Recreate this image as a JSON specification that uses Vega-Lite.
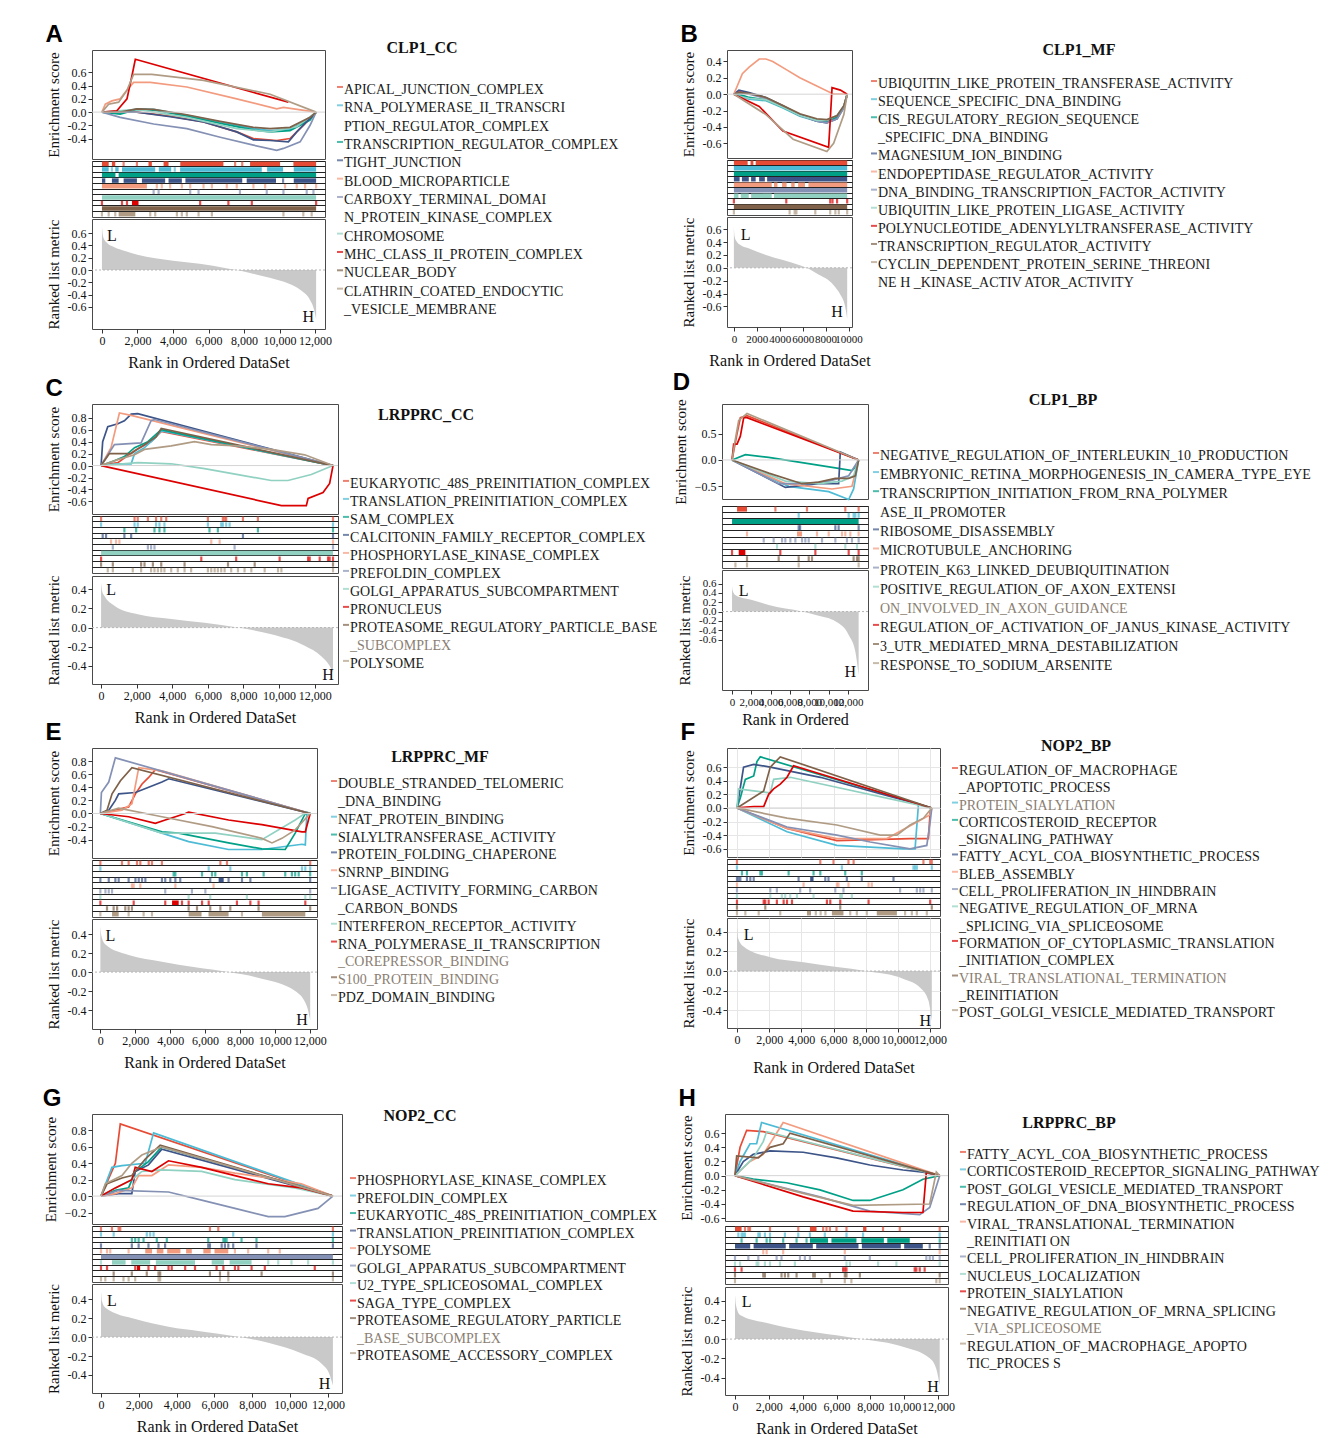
{
"$schema": "https://vega.github.io/schema/vega-lite/v6.json",
"background": "white",
"padding": {"left": 42, "top": 22, "right": 4, "bottom": 4},
"config": {
  "view": {"stroke": "#4a4a4a", "strokeWidth": 1},
  "font": "Liberation Serif",
  "axis": {"labelFont": "Liberation Serif", "titleFont": "Liberation Serif", "labelFontSize": 12, "titleFontSize": 15, "titleFontWeight": "normal", "labelColor": "#111", "titleColor": "#111", "domain": false, "grid": false, "tickColor": "#333", "tickSize": 4, "labelPadding": 2, "titlePadding": 6, "tickCount": 30, "labelOverlap": false},
  "locale": {"number": {"decimal": ".", "thousands": ",", "grouping": [3], "currency": ["$", ""], "minus": "-"}}
},
"datasets": {
"es": [
{"p":"A","s":1,"x":0,"y":0},{"p":"A","s":1,"x":1970,"y":0},{"p":"A","s":1,"x":3840,"y":-0.06},{"p":"A","s":1,"x":5720,"y":-0.15},{"p":"A","s":1,"x":7590,"y":-0.3},{"p":"A","s":1,"x":8530,"y":-0.4},{"p":"A","s":1,"x":9840,"y":-0.43},{"p":"A","s":1,"x":10590,"y":-0.4},{"p":"A","s":1,"x":11340,"y":-0.2},{"p":"A","s":1,"x":12060,"y":0},
{"p":"A","s":2,"x":0,"y":0},{"p":"A","s":2,"x":1030,"y":-0.02},{"p":"A","s":2,"x":1970,"y":0.05},{"p":"A","s":2,"x":2910,"y":0.04},{"p":"A","s":2,"x":4780,"y":-0.05},{"p":"A","s":2,"x":6660,"y":-0.15},{"p":"A","s":2,"x":8530,"y":-0.25},{"p":"A","s":2,"x":9470,"y":-0.28},{"p":"A","s":2,"x":10590,"y":-0.26},{"p":"A","s":2,"x":11720,"y":-0.1},{"p":"A","s":2,"x":12060,"y":0},
{"p":"A","s":3,"x":0,"y":0},{"p":"A","s":3,"x":1030,"y":-0.03},{"p":"A","s":3,"x":1970,"y":0.04},{"p":"A","s":3,"x":2910,"y":0.03},{"p":"A","s":3,"x":4780,"y":-0.06},{"p":"A","s":3,"x":6660,"y":-0.17},{"p":"A","s":3,"x":8530,"y":-0.27},{"p":"A","s":3,"x":9470,"y":-0.3},{"p":"A","s":3,"x":10590,"y":-0.28},{"p":"A","s":3,"x":11720,"y":-0.12},{"p":"A","s":3,"x":12060,"y":0},
{"p":"A","s":4,"x":0,"y":0},{"p":"A","s":4,"x":1970,"y":0},{"p":"A","s":4,"x":3840,"y":-0.07},{"p":"A","s":4,"x":5720,"y":-0.15},{"p":"A","s":4,"x":7590,"y":-0.3},{"p":"A","s":4,"x":8530,"y":-0.42},{"p":"A","s":4,"x":9470,"y":-0.43},{"p":"A","s":4,"x":10500,"y":-0.45},{"p":"A","s":4,"x":10970,"y":-0.3},{"p":"A","s":4,"x":12060,"y":0},
{"p":"A","s":5,"x":0,"y":0},{"p":"A","s":5,"x":190,"y":0.12},{"p":"A","s":5,"x":560,"y":0.17},{"p":"A","s":5,"x":1030,"y":0.2},{"p":"A","s":5,"x":1310,"y":0.3},{"p":"A","s":5,"x":1780,"y":0.45},{"p":"A","s":5,"x":2720,"y":0.45},{"p":"A","s":5,"x":4780,"y":0.38},{"p":"A","s":5,"x":7590,"y":0.2},{"p":"A","s":5,"x":9840,"y":0.05},{"p":"A","s":5,"x":10220,"y":0.07},{"p":"A","s":5,"x":12060,"y":0},
{"p":"A","s":6,"x":0,"y":0},{"p":"A","s":6,"x":1030,"y":-0.08},{"p":"A","s":6,"x":2910,"y":-0.18},{"p":"A","s":6,"x":4780,"y":-0.25},{"p":"A","s":6,"x":6660,"y":-0.38},{"p":"A","s":6,"x":8530,"y":-0.5},{"p":"A","s":6,"x":9840,"y":-0.58},{"p":"A","s":6,"x":10220,"y":-0.55},{"p":"A","s":6,"x":11160,"y":-0.45},{"p":"A","s":6,"x":11720,"y":-0.2},{"p":"A","s":6,"x":12060,"y":0},
{"p":"A","s":7,"x":0,"y":0},{"p":"A","s":7,"x":1970,"y":0.04},{"p":"A","s":7,"x":4780,"y":-0.08},{"p":"A","s":7,"x":7590,"y":-0.25},{"p":"A","s":7,"x":9470,"y":-0.3},{"p":"A","s":7,"x":10970,"y":-0.22},{"p":"A","s":7,"x":12060,"y":0},
{"p":"A","s":8,"x":0,"y":0},{"p":"A","s":8,"x":840,"y":0.02},{"p":"A","s":8,"x":1410,"y":0.2},{"p":"A","s":8,"x":1690,"y":0.55},{"p":"A","s":8,"x":1880,"y":0.8},{"p":"A","s":8,"x":10500,"y":0.15},
{"p":"A","s":9,"x":0,"y":0},{"p":"A","s":9,"x":1030,"y":0},{"p":"A","s":9,"x":1970,"y":0.05},{"p":"A","s":9,"x":2910,"y":0.04},{"p":"A","s":9,"x":4780,"y":-0.04},{"p":"A","s":9,"x":6660,"y":-0.14},{"p":"A","s":9,"x":8530,"y":-0.23},{"p":"A","s":9,"x":9470,"y":-0.25},{"p":"A","s":9,"x":10590,"y":-0.23},{"p":"A","s":9,"x":11720,"y":-0.08},{"p":"A","s":9,"x":12060,"y":0},
{"p":"A","s":10,"x":0,"y":0},{"p":"A","s":10,"x":375,"y":0.12},{"p":"A","s":10,"x":940,"y":0.15},{"p":"A","s":10,"x":1410,"y":0.33},{"p":"A","s":10,"x":1780,"y":0.57},{"p":"A","s":10,"x":2810,"y":0.57},{"p":"A","s":10,"x":5720,"y":0.48},{"p":"A","s":10,"x":9470,"y":0.27},{"p":"A","s":10,"x":12060,"y":0},
{"p":"B","s":1,"x":0,"y":0},{"p":"B","s":1,"x":440,"y":0.03},{"p":"B","s":1,"x":1330,"y":0.01},{"p":"B","s":1,"x":2800,"y":-0.05},{"p":"B","s":1,"x":4280,"y":-0.15},{"p":"B","s":1,"x":5750,"y":-0.25},{"p":"B","s":1,"x":7230,"y":-0.31},{"p":"B","s":1,"x":8110,"y":-0.32},{"p":"B","s":1,"x":9000,"y":-0.27},{"p":"B","s":1,"x":9590,"y":-0.15},{"p":"B","s":1,"x":9880,"y":0},
{"p":"B","s":2,"x":0,"y":0},{"p":"B","s":2,"x":440,"y":-0.02},{"p":"B","s":2,"x":1330,"y":-0.06},{"p":"B","s":2,"x":2800,"y":-0.08},{"p":"B","s":2,"x":4280,"y":-0.17},{"p":"B","s":2,"x":5750,"y":-0.27},{"p":"B","s":2,"x":7230,"y":-0.33},{"p":"B","s":2,"x":8110,"y":-0.34},{"p":"B","s":2,"x":9000,"y":-0.28},{"p":"B","s":2,"x":9590,"y":-0.16},{"p":"B","s":2,"x":9880,"y":0},
{"p":"B","s":3,"x":0,"y":0},{"p":"B","s":3,"x":440,"y":0},{"p":"B","s":3,"x":1330,"y":-0.04},{"p":"B","s":3,"x":2800,"y":-0.07},{"p":"B","s":3,"x":4280,"y":-0.16},{"p":"B","s":3,"x":5750,"y":-0.26},{"p":"B","s":3,"x":7230,"y":-0.32},{"p":"B","s":3,"x":8110,"y":-0.33},{"p":"B","s":3,"x":9000,"y":-0.28},{"p":"B","s":3,"x":9590,"y":-0.15},{"p":"B","s":3,"x":9880,"y":0},
{"p":"B","s":4,"x":0,"y":0},{"p":"B","s":4,"x":440,"y":0.05},{"p":"B","s":4,"x":1330,"y":0.02},{"p":"B","s":4,"x":2800,"y":-0.04},{"p":"B","s":4,"x":4280,"y":-0.14},{"p":"B","s":4,"x":5750,"y":-0.25},{"p":"B","s":4,"x":7230,"y":-0.33},{"p":"B","s":4,"x":8110,"y":-0.35},{"p":"B","s":4,"x":9000,"y":-0.3},{"p":"B","s":4,"x":9590,"y":-0.16},{"p":"B","s":4,"x":9880,"y":0},
{"p":"B","s":5,"x":0,"y":0},{"p":"B","s":5,"x":295,"y":0.1},{"p":"B","s":5,"x":740,"y":0.25},{"p":"B","s":5,"x":1330,"y":0.33},{"p":"B","s":5,"x":2210,"y":0.43},{"p":"B","s":5,"x":2800,"y":0.43},{"p":"B","s":5,"x":3390,"y":0.4},{"p":"B","s":5,"x":4570,"y":0.3},{"p":"B","s":5,"x":5750,"y":0.2},{"p":"B","s":5,"x":7230,"y":0.1},{"p":"B","s":5,"x":8700,"y":0},{"p":"B","s":5,"x":9880,"y":0},
{"p":"B","s":6,"x":0,"y":0},{"p":"B","s":6,"x":440,"y":0.02},{"p":"B","s":6,"x":1330,"y":0},{"p":"B","s":6,"x":2800,"y":-0.05},{"p":"B","s":6,"x":4280,"y":-0.15},{"p":"B","s":6,"x":5750,"y":-0.26},{"p":"B","s":6,"x":7230,"y":-0.33},{"p":"B","s":6,"x":8110,"y":-0.35},{"p":"B","s":6,"x":9000,"y":-0.3},{"p":"B","s":6,"x":9590,"y":-0.17},{"p":"B","s":6,"x":9880,"y":0},
{"p":"B","s":7,"x":0,"y":0},{"p":"B","s":7,"x":440,"y":-0.03},{"p":"B","s":7,"x":1330,"y":-0.05},{"p":"B","s":7,"x":2800,"y":-0.07},{"p":"B","s":7,"x":4280,"y":-0.16},{"p":"B","s":7,"x":5750,"y":-0.26},{"p":"B","s":7,"x":7230,"y":-0.32},{"p":"B","s":7,"x":8110,"y":-0.32},{"p":"B","s":7,"x":9000,"y":-0.26},{"p":"B","s":7,"x":9590,"y":-0.14},{"p":"B","s":7,"x":9880,"y":0},
{"p":"B","s":8,"x":0,"y":0},{"p":"B","s":8,"x":2210,"y":-0.15},{"p":"B","s":8,"x":4280,"y":-0.45},{"p":"B","s":8,"x":8260,"y":-0.65},{"p":"B","s":8,"x":8410,"y":-0.3},{"p":"B","s":8,"x":8560,"y":0.08},{"p":"B","s":8,"x":9290,"y":0.05},{"p":"B","s":8,"x":9880,"y":0},
{"p":"B","s":9,"x":0,"y":0},{"p":"B","s":9,"x":440,"y":0.02},{"p":"B","s":9,"x":1330,"y":0.01},{"p":"B","s":9,"x":2800,"y":-0.04},{"p":"B","s":9,"x":4280,"y":-0.14},{"p":"B","s":9,"x":5750,"y":-0.24},{"p":"B","s":9,"x":7230,"y":-0.3},{"p":"B","s":9,"x":8110,"y":-0.31},{"p":"B","s":9,"x":9000,"y":-0.26},{"p":"B","s":9,"x":9590,"y":-0.14},{"p":"B","s":9,"x":9880,"y":0},
{"p":"B","s":10,"x":0,"y":0},{"p":"B","s":10,"x":2800,"y":-0.25},{"p":"B","s":10,"x":5160,"y":-0.55},{"p":"B","s":10,"x":8110,"y":-0.7},{"p":"B","s":10,"x":8700,"y":-0.6},{"p":"B","s":10,"x":9590,"y":-0.25},{"p":"B","s":10,"x":9880,"y":0},
{"p":"C","s":1,"x":0,"y":0},{"p":"C","s":1,"x":940,"y":0.05},{"p":"C","s":1,"x":1880,"y":0.25},{"p":"C","s":1,"x":2810,"y":0.4},{"p":"C","s":1,"x":3380,"y":0.57},{"p":"C","s":1,"x":13030,"y":0},
{"p":"C","s":2,"x":0,"y":0},{"p":"C","s":2,"x":940,"y":0.03},{"p":"C","s":2,"x":1690,"y":0.03},{"p":"C","s":2,"x":1880,"y":0.2},{"p":"C","s":2,"x":2440,"y":0.3},{"p":"C","s":2,"x":3000,"y":0.45},{"p":"C","s":2,"x":3380,"y":0.58},{"p":"C","s":2,"x":3940,"y":0.55},{"p":"C","s":2,"x":13030,"y":0},
{"p":"C","s":3,"x":0,"y":0},{"p":"C","s":3,"x":750,"y":0.08},{"p":"C","s":3,"x":1310,"y":0.15},{"p":"C","s":3,"x":1880,"y":0.3},{"p":"C","s":3,"x":2630,"y":0.4},{"p":"C","s":3,"x":3380,"y":0.6},{"p":"C","s":3,"x":4130,"y":0.55},{"p":"C","s":3,"x":13030,"y":0},
{"p":"C","s":4,"x":0,"y":0},{"p":"C","s":4,"x":90,"y":0.4},{"p":"C","s":4,"x":375,"y":0.65},{"p":"C","s":4,"x":940,"y":0.7},{"p":"C","s":4,"x":1310,"y":0.75},{"p":"C","s":4,"x":1690,"y":0.86},{"p":"C","s":4,"x":2060,"y":0.87},{"p":"C","s":4,"x":13030,"y":0},
{"p":"C","s":5,"x":0,"y":0},{"p":"C","s":5,"x":560,"y":0.3},{"p":"C","s":5,"x":1030,"y":0.88},{"p":"C","s":5,"x":1690,"y":0.84},{"p":"C","s":5,"x":13030,"y":0},
{"p":"C","s":6,"x":0,"y":0},{"p":"C","s":6,"x":750,"y":0.35},{"p":"C","s":6,"x":2250,"y":0.38},{"p":"C","s":6,"x":2810,"y":0.75},{"p":"C","s":6,"x":3000,"y":0.77},{"p":"C","s":6,"x":13030,"y":0},
{"p":"C","s":7,"x":0,"y":0},{"p":"C","s":7,"x":2060,"y":0.05},{"p":"C","s":7,"x":3940,"y":0.03},{"p":"C","s":7,"x":5810,"y":-0.05},{"p":"C","s":7,"x":7690,"y":-0.15},{"p":"C","s":7,"x":9560,"y":-0.25},{"p":"C","s":7,"x":10500,"y":-0.25},{"p":"C","s":7,"x":11810,"y":-0.15},{"p":"C","s":7,"x":13030,"y":0},
{"p":"C","s":8,"x":0,"y":0},{"p":"C","s":8,"x":10130,"y":-0.67},{"p":"C","s":8,"x":11530,"y":-0.67},{"p":"C","s":8,"x":11630,"y":-0.55},{"p":"C","s":8,"x":12470,"y":-0.45},{"p":"C","s":8,"x":12840,"y":-0.3},{"p":"C","s":8,"x":13030,"y":0},
{"p":"C","s":9,"x":0,"y":0},{"p":"C","s":9,"x":470,"y":0.2},{"p":"C","s":9,"x":1690,"y":0.2},{"p":"C","s":9,"x":2060,"y":0.28},{"p":"C","s":9,"x":2440,"y":0.35},{"p":"C","s":9,"x":3090,"y":0.48},{"p":"C","s":9,"x":3380,"y":0.62},{"p":"C","s":9,"x":13030,"y":0},
{"p":"C","s":10,"x":0,"y":0},{"p":"C","s":10,"x":940,"y":0.1},{"p":"C","s":10,"x":1880,"y":0.18},{"p":"C","s":10,"x":2440,"y":0.27},{"p":"C","s":10,"x":3940,"y":0.33},{"p":"C","s":10,"x":5250,"y":0.4},{"p":"C","s":10,"x":6190,"y":0.35},{"p":"C","s":10,"x":7690,"y":0.33},{"p":"C","s":10,"x":9560,"y":0.27},{"p":"C","s":10,"x":11440,"y":0.18},{"p":"C","s":10,"x":13030,"y":0},
{"p":"D","s":1,"x":0,"y":0},{"p":"D","s":1,"x":520,"y":0.5},{"p":"D","s":1,"x":860,"y":0.8},{"p":"D","s":1,"x":1550,"y":0.84},{"p":"D","s":1,"x":13110,"y":0},
{"p":"D","s":2,"x":0,"y":0},{"p":"D","s":2,"x":5870,"y":-0.5},{"p":"D","s":2,"x":10010,"y":-0.6},{"p":"D","s":2,"x":12080,"y":-0.75},{"p":"D","s":2,"x":12590,"y":-0.55},{"p":"D","s":2,"x":13110,"y":0},
{"p":"D","s":3,"x":0,"y":0},{"p":"D","s":3,"x":1380,"y":0.1},{"p":"D","s":3,"x":3800,"y":0.05},{"p":"D","s":3,"x":7250,"y":-0.05},{"p":"D","s":3,"x":10700,"y":-0.15},{"p":"D","s":3,"x":12420,"y":-0.2},{"p":"D","s":3,"x":12940,"y":-0.1},{"p":"D","s":3,"x":13110,"y":0},
{"p":"D","s":4,"x":0,"y":0},{"p":"D","s":4,"x":5520,"y":-0.52},{"p":"D","s":4,"x":8970,"y":-0.45},{"p":"D","s":4,"x":11040,"y":-0.45},{"p":"D","s":4,"x":11210,"y":0.15},{"p":"D","s":4,"x":13110,"y":0},
{"p":"D","s":5,"x":0,"y":0},{"p":"D","s":5,"x":5520,"y":-0.45},{"p":"D","s":5,"x":10350,"y":-0.55},{"p":"D","s":5,"x":12420,"y":-0.5},{"p":"D","s":5,"x":13110,"y":0},
{"p":"D","s":6,"x":0,"y":0},{"p":"D","s":6,"x":4830,"y":-0.45},{"p":"D","s":6,"x":7940,"y":-0.45},{"p":"D","s":6,"x":10010,"y":-0.4},{"p":"D","s":6,"x":12080,"y":-0.3},{"p":"D","s":6,"x":13110,"y":0},
{"p":"D","s":7,"x":0,"y":0},{"p":"D","s":7,"x":5520,"y":-0.4},{"p":"D","s":7,"x":8970,"y":-0.45},{"p":"D","s":7,"x":11390,"y":-0.4},{"p":"D","s":7,"x":12590,"y":-0.3},{"p":"D","s":7,"x":13110,"y":0},
{"p":"D","s":8,"x":0,"y":0},{"p":"D","s":8,"x":170,"y":0.3},{"p":"D","s":8,"x":520,"y":0.3},{"p":"D","s":8,"x":860,"y":0.45},{"p":"D","s":8,"x":1210,"y":0.8},{"p":"D","s":8,"x":1550,"y":0.8},{"p":"D","s":8,"x":13110,"y":0},
{"p":"D","s":9,"x":0,"y":0},{"p":"D","s":9,"x":3800,"y":-0.25},{"p":"D","s":9,"x":7250,"y":-0.45},{"p":"D","s":9,"x":8970,"y":-0.42},{"p":"D","s":9,"x":10700,"y":-0.35},{"p":"D","s":9,"x":12080,"y":-0.35},{"p":"D","s":9,"x":12770,"y":-0.3},{"p":"D","s":9,"x":13110,"y":0},
{"p":"D","s":10,"x":0,"y":0},{"p":"D","s":10,"x":350,"y":0.4},{"p":"D","s":10,"x":690,"y":0.75},{"p":"D","s":10,"x":1550,"y":0.88},{"p":"D","s":10,"x":13110,"y":0},
{"p":"E","s":1,"x":0,"y":0},{"p":"E","s":1,"x":1620,"y":0.1},{"p":"E","s":1,"x":2010,"y":0.3},{"p":"E","s":1,"x":2390,"y":0.45},{"p":"E","s":1,"x":2770,"y":0.55},{"p":"E","s":1,"x":3150,"y":0.67},{"p":"E","s":1,"x":12030,"y":0},
{"p":"E","s":2,"x":0,"y":0},{"p":"E","s":2,"x":3530,"y":-0.3},{"p":"E","s":2,"x":5060,"y":-0.43},{"p":"E","s":2,"x":7350,"y":-0.55},{"p":"E","s":2,"x":9260,"y":-0.55},{"p":"E","s":2,"x":11560,"y":-0.47},{"p":"E","s":2,"x":11750,"y":-0.48},{"p":"E","s":2,"x":11840,"y":0.02},{"p":"E","s":2,"x":12030,"y":0},
{"p":"E","s":3,"x":0,"y":0},{"p":"E","s":3,"x":3530,"y":-0.28},{"p":"E","s":3,"x":4490,"y":-0.3},{"p":"E","s":3,"x":7350,"y":-0.45},{"p":"E","s":3,"x":9260,"y":-0.54},{"p":"E","s":3,"x":10600,"y":-0.55},{"p":"E","s":3,"x":11170,"y":-0.3},{"p":"E","s":3,"x":11750,"y":0},{"p":"E","s":3,"x":12030,"y":0},
{"p":"E","s":4,"x":0,"y":0},{"p":"E","s":4,"x":480,"y":0.05},{"p":"E","s":4,"x":860,"y":0.2},{"p":"E","s":4,"x":1050,"y":0.3},{"p":"E","s":4,"x":2010,"y":0.32},{"p":"E","s":4,"x":2770,"y":0.4},{"p":"E","s":4,"x":3530,"y":0.48},{"p":"E","s":4,"x":3920,"y":0.53},{"p":"E","s":4,"x":12030,"y":0},
{"p":"E","s":5,"x":0,"y":0},{"p":"E","s":5,"x":1240,"y":0.05},{"p":"E","s":5,"x":1810,"y":0.15},{"p":"E","s":5,"x":2200,"y":0.7},{"p":"E","s":5,"x":3530,"y":0.65},{"p":"E","s":5,"x":12030,"y":0},
{"p":"E","s":6,"x":0,"y":0},{"p":"E","s":6,"x":60,"y":0.32},{"p":"E","s":6,"x":480,"y":0.48},{"p":"E","s":6,"x":860,"y":0.85},{"p":"E","s":6,"x":12030,"y":0},
{"p":"E","s":7,"x":0,"y":0},{"p":"E","s":7,"x":3530,"y":-0.3},{"p":"E","s":7,"x":6590,"y":-0.3},{"p":"E","s":7,"x":9260,"y":-0.4},{"p":"E","s":7,"x":11170,"y":-0.1},{"p":"E","s":7,"x":11840,"y":0.02},{"p":"E","s":7,"x":12030,"y":0},
{"p":"E","s":8,"x":0,"y":0},{"p":"E","s":8,"x":1620,"y":-0.05},{"p":"E","s":8,"x":3150,"y":-0.15},{"p":"E","s":8,"x":3720,"y":-0.1},{"p":"E","s":8,"x":4300,"y":-0.05},{"p":"E","s":8,"x":4870,"y":0},{"p":"E","s":8,"x":5060,"y":0.02},{"p":"E","s":8,"x":7350,"y":-0.1},{"p":"E","s":8,"x":9260,"y":-0.17},{"p":"E","s":8,"x":11560,"y":-0.28},{"p":"E","s":8,"x":11750,"y":-0.28},{"p":"E","s":8,"x":12030,"y":0},
{"p":"E","s":9,"x":0,"y":0},{"p":"E","s":9,"x":380,"y":0.05},{"p":"E","s":9,"x":670,"y":0.3},{"p":"E","s":9,"x":1150,"y":0.5},{"p":"E","s":9,"x":1810,"y":0.7},{"p":"E","s":9,"x":12030,"y":0},
{"p":"E","s":10,"x":0,"y":0},{"p":"E","s":10,"x":1050,"y":0.08},{"p":"E","s":10,"x":3530,"y":-0.05},{"p":"E","s":10,"x":6400,"y":-0.2},{"p":"E","s":10,"x":9260,"y":-0.38},{"p":"E","s":10,"x":9840,"y":-0.45},{"p":"E","s":10,"x":10410,"y":-0.38},{"p":"E","s":10,"x":11170,"y":-0.25},{"p":"E","s":10,"x":12030,"y":0},
{"p":"F","s":1,"x":0,"y":0},{"p":"F","s":1,"x":3110,"y":-0.3},{"p":"F","s":1,"x":6210,"y":-0.48},{"p":"F","s":1,"x":10760,"y":-0.45},{"p":"F","s":1,"x":11900,"y":-0.45},{"p":"F","s":1,"x":12010,"y":-0.05},{"p":"F","s":1,"x":12110,"y":0},
{"p":"F","s":2,"x":0,"y":0},{"p":"F","s":2,"x":3110,"y":-0.35},{"p":"F","s":2,"x":6210,"y":-0.55},{"p":"F","s":2,"x":10350,"y":-0.6},{"p":"F","s":2,"x":11070,"y":-0.6},{"p":"F","s":2,"x":11280,"y":0.05},{"p":"F","s":2,"x":12110,"y":0},
{"p":"F","s":3,"x":0,"y":0},{"p":"F","s":3,"x":210,"y":0.15},{"p":"F","s":3,"x":520,"y":0.42},{"p":"F","s":3,"x":1040,"y":0.47},{"p":"F","s":3,"x":1240,"y":0.68},{"p":"F","s":3,"x":1450,"y":0.75},{"p":"F","s":3,"x":12110,"y":0},
{"p":"F","s":4,"x":0,"y":0},{"p":"F","s":4,"x":210,"y":0.3},{"p":"F","s":4,"x":410,"y":0.6},{"p":"F","s":4,"x":1040,"y":0.64},{"p":"F","s":4,"x":2070,"y":0.6},{"p":"F","s":4,"x":5180,"y":0.45},{"p":"F","s":4,"x":12110,"y":0},
{"p":"F","s":5,"x":0,"y":0},{"p":"F","s":5,"x":3110,"y":-0.3},{"p":"F","s":5,"x":6210,"y":-0.45},{"p":"F","s":5,"x":9320,"y":-0.45},{"p":"F","s":5,"x":12010,"y":-0.1},{"p":"F","s":5,"x":12110,"y":0},
{"p":"F","s":6,"x":0,"y":0},{"p":"F","s":6,"x":3110,"y":-0.28},{"p":"F","s":6,"x":6210,"y":-0.4},{"p":"F","s":6,"x":8280,"y":-0.5},{"p":"F","s":6,"x":10760,"y":-0.6},{"p":"F","s":6,"x":11800,"y":-0.55},{"p":"F","s":6,"x":12010,"y":-0.2},{"p":"F","s":6,"x":12110,"y":0},
{"p":"F","s":7,"x":0,"y":0},{"p":"F","s":7,"x":100,"y":0.28},{"p":"F","s":7,"x":1040,"y":0.25},{"p":"F","s":7,"x":2070,"y":0.22},{"p":"F","s":7,"x":2280,"y":0.42},{"p":"F","s":7,"x":3310,"y":0.45},{"p":"F","s":7,"x":12110,"y":0},
{"p":"F","s":8,"x":0,"y":0},{"p":"F","s":8,"x":1040,"y":0.02},{"p":"F","s":8,"x":1660,"y":0.02},{"p":"F","s":8,"x":1970,"y":0.2},{"p":"F","s":8,"x":2280,"y":0.28},{"p":"F","s":8,"x":2690,"y":0.35},{"p":"F","s":8,"x":3110,"y":0.45},{"p":"F","s":8,"x":3520,"y":0.62},{"p":"F","s":8,"x":12110,"y":0},
{"p":"F","s":9,"x":0,"y":0},{"p":"F","s":9,"x":1660,"y":0.25},{"p":"F","s":9,"x":2070,"y":0.6},{"p":"F","s":9,"x":2690,"y":0.75},{"p":"F","s":9,"x":12110,"y":0},
{"p":"F","s":10,"x":0,"y":0},{"p":"F","s":10,"x":3110,"y":-0.15},{"p":"F","s":10,"x":6210,"y":-0.25},{"p":"F","s":10,"x":8900,"y":-0.4},{"p":"F","s":10,"x":9940,"y":-0.4},{"p":"F","s":10,"x":10760,"y":-0.25},{"p":"F","s":10,"x":11590,"y":-0.15},{"p":"F","s":10,"x":12110,"y":0},
{"p":"G","s":1,"x":0,"y":0},{"p":"G","s":1,"x":760,"y":0.4},{"p":"G","s":1,"x":1020,"y":0.88},{"p":"G","s":1,"x":12260,"y":0},
{"p":"G","s":2,"x":0,"y":0},{"p":"G","s":2,"x":580,"y":0.35},{"p":"G","s":2,"x":1110,"y":0.37},{"p":"G","s":2,"x":2340,"y":0.4},{"p":"G","s":2,"x":2780,"y":0.77},{"p":"G","s":2,"x":12260,"y":0},
{"p":"G","s":3,"x":0,"y":0},{"p":"G","s":3,"x":760,"y":0.07},{"p":"G","s":3,"x":1460,"y":0.1},{"p":"G","s":3,"x":1810,"y":0.3},{"p":"G","s":3,"x":2510,"y":0.42},{"p":"G","s":3,"x":3220,"y":0.6},{"p":"G","s":3,"x":12260,"y":0},
{"p":"G","s":4,"x":0,"y":0},{"p":"G","s":4,"x":930,"y":0.03},{"p":"G","s":4,"x":1630,"y":0.03},{"p":"G","s":4,"x":1810,"y":0.3},{"p":"G","s":4,"x":2510,"y":0.38},{"p":"G","s":4,"x":3220,"y":0.57},{"p":"G","s":4,"x":12260,"y":0},
{"p":"G","s":5,"x":0,"y":0},{"p":"G","s":5,"x":760,"y":0.03},{"p":"G","s":5,"x":1630,"y":0.1},{"p":"G","s":5,"x":1990,"y":0.25},{"p":"G","s":5,"x":2690,"y":0.25},{"p":"G","s":5,"x":3570,"y":0.38},{"p":"G","s":5,"x":5320,"y":0.35},{"p":"G","s":5,"x":7080,"y":0.28},{"p":"G","s":5,"x":8840,"y":0.22},{"p":"G","s":5,"x":10590,"y":0.15},{"p":"G","s":5,"x":12260,"y":0},
{"p":"G","s":6,"x":0,"y":0},{"p":"G","s":6,"x":930,"y":0.07},{"p":"G","s":6,"x":3570,"y":0.05},{"p":"G","s":6,"x":5320,"y":-0.05},{"p":"G","s":6,"x":7080,"y":-0.15},{"p":"G","s":6,"x":8840,"y":-0.25},{"p":"G","s":6,"x":9720,"y":-0.25},{"p":"G","s":6,"x":11470,"y":-0.15},{"p":"G","s":6,"x":12260,"y":0},
{"p":"G","s":7,"x":0,"y":0},{"p":"G","s":7,"x":760,"y":0.1},{"p":"G","s":7,"x":1630,"y":0.2},{"p":"G","s":7,"x":2160,"y":0.3},{"p":"G","s":7,"x":3220,"y":0.32},{"p":"G","s":7,"x":5320,"y":0.3},{"p":"G","s":7,"x":7080,"y":0.2},{"p":"G","s":7,"x":10240,"y":0.1},{"p":"G","s":7,"x":12260,"y":0},
{"p":"G","s":8,"x":0,"y":0},{"p":"G","s":8,"x":760,"y":0.1},{"p":"G","s":8,"x":1630,"y":0.2},{"p":"G","s":8,"x":1810,"y":0.35},{"p":"G","s":8,"x":2690,"y":0.3},{"p":"G","s":8,"x":3570,"y":0.43},{"p":"G","s":8,"x":5320,"y":0.35},{"p":"G","s":8,"x":7080,"y":0.25},{"p":"G","s":8,"x":8840,"y":0.15},{"p":"G","s":8,"x":10590,"y":0.1},{"p":"G","s":8,"x":12260,"y":0},
{"p":"G","s":9,"x":0,"y":0},{"p":"G","s":9,"x":320,"y":0.15},{"p":"G","s":9,"x":1110,"y":0.22},{"p":"G","s":9,"x":1630,"y":0.25},{"p":"G","s":9,"x":2340,"y":0.45},{"p":"G","s":9,"x":3130,"y":0.62},{"p":"G","s":9,"x":12260,"y":0},
{"p":"G","s":10,"x":0,"y":0},{"p":"G","s":10,"x":230,"y":0.15},{"p":"G","s":10,"x":1110,"y":0.25},{"p":"G","s":10,"x":1630,"y":0.4},{"p":"G","s":10,"x":2160,"y":0.5},{"p":"G","s":10,"x":3220,"y":0.6},{"p":"G","s":10,"x":12260,"y":0},
{"p":"H","s":1,"x":0,"y":0},{"p":"H","s":1,"x":300,"y":0.4},{"p":"H","s":1,"x":690,"y":0.64},{"p":"H","s":1,"x":1670,"y":0.62},{"p":"H","s":1,"x":12100,"y":0},
{"p":"H","s":2,"x":0,"y":0},{"p":"H","s":2,"x":300,"y":0.2},{"p":"H","s":2,"x":890,"y":0.45},{"p":"H","s":2,"x":1280,"y":0.45},{"p":"H","s":2,"x":1570,"y":0.75},{"p":"H","s":2,"x":12100,"y":0},
{"p":"H","s":3,"x":0,"y":0},{"p":"H","s":3,"x":1080,"y":-0.05},{"p":"H","s":3,"x":3050,"y":-0.1},{"p":"H","s":3,"x":5020,"y":-0.2},{"p":"H","s":3,"x":6980,"y":-0.35},{"p":"H","s":3,"x":7970,"y":-0.35},{"p":"H","s":3,"x":9930,"y":-0.2},{"p":"H","s":3,"x":11110,"y":-0.05},{"p":"H","s":3,"x":12100,"y":0},
{"p":"H","s":4,"x":0,"y":0},{"p":"H","s":4,"x":490,"y":0.2},{"p":"H","s":4,"x":1080,"y":0.3},{"p":"H","s":4,"x":2070,"y":0.35},{"p":"H","s":4,"x":4030,"y":0.33},{"p":"H","s":4,"x":6000,"y":0.25},{"p":"H","s":4,"x":7970,"y":0.15},{"p":"H","s":4,"x":9930,"y":0.08},{"p":"H","s":4,"x":11110,"y":0.05},{"p":"H","s":4,"x":12100,"y":0},
{"p":"H","s":5,"x":0,"y":0},{"p":"H","s":5,"x":890,"y":0.2},{"p":"H","s":5,"x":1670,"y":0.3},{"p":"H","s":5,"x":2850,"y":0.75},{"p":"H","s":5,"x":12100,"y":0},
{"p":"H","s":6,"x":0,"y":0},{"p":"H","s":6,"x":5020,"y":-0.3},{"p":"H","s":6,"x":7970,"y":-0.5},{"p":"H","s":6,"x":10920,"y":-0.55},{"p":"H","s":6,"x":11510,"y":-0.45},{"p":"H","s":6,"x":12100,"y":0},
{"p":"H","s":7,"x":0,"y":0},{"p":"H","s":7,"x":1080,"y":0.25},{"p":"H","s":7,"x":1670,"y":0.48},{"p":"H","s":7,"x":1870,"y":0.62},{"p":"H","s":7,"x":12100,"y":0},
{"p":"H","s":8,"x":0,"y":0},{"p":"H","s":8,"x":4030,"y":-0.3},{"p":"H","s":8,"x":6980,"y":-0.5},{"p":"H","s":8,"x":9930,"y":-0.52},{"p":"H","s":8,"x":11110,"y":-0.52},{"p":"H","s":8,"x":11310,"y":0.05},{"p":"H","s":8,"x":12100,"y":0},
{"p":"H","s":9,"x":0,"y":0},{"p":"H","s":9,"x":100,"y":0.28},{"p":"H","s":9,"x":1380,"y":0.25},{"p":"H","s":9,"x":2070,"y":0.4},{"p":"H","s":9,"x":2850,"y":0.45},{"p":"H","s":9,"x":3250,"y":0.6},{"p":"H","s":9,"x":12100,"y":0},
{"p":"H","s":10,"x":0,"y":0},{"p":"H","s":10,"x":4030,"y":-0.25},{"p":"H","s":10,"x":6980,"y":-0.42},{"p":"H","s":10,"x":11510,"y":-0.4},{"p":"H","s":10,"x":11900,"y":0.05},{"p":"H","s":10,"x":12100,"y":0}
],
"hits": [
{"p":"A","s":1,"x":0,"x2":380},{"p":"A","s":1,"x":560,"x2":750},{"p":"A","s":1,"x":2620,"x2":2810},{"p":"A","s":1,"x":3470,"x2":3750},{"p":"A","s":1,"x":4410,"x2":6840},{"p":"A","s":1,"x":8340,"x2":10030},{"p":"A","s":1,"x":10780,"x2":12060},{"p":"A","s":1,"x":1220},{"p":"A","s":1,"x":1970},{"p":"A","s":1,"x":7500},{"p":"A","s":1,"x":7900},
{"p":"A","s":2,"x":0,"x2":380},{"p":"A","s":2,"x":750,"x2":940},{"p":"A","s":2,"x":1130,"x2":3000},{"p":"A","s":2,"x":3200,"x2":3900},{"p":"A","s":2,"x":4400,"x2":9000},{"p":"A","s":2,"x":9300,"x2":10200},{"p":"A","s":2,"x":10800,"x2":12060},{"p":"A","s":2,"x":560},{"p":"A","s":2,"x":4100},
{"p":"A","s":3,"x":0,"x2":760},{"p":"A","s":3,"x":940,"x2":12060},
{"p":"A","s":4,"x":0,"x2":190},{"p":"A","s":4,"x":560,"x2":940},{"p":"A","s":4,"x":1220,"x2":1970},{"p":"A","s":4,"x":2250,"x2":3560},{"p":"A","s":4,"x":3750,"x2":4500},{"p":"A","s":4,"x":4700,"x2":7900},{"p":"A","s":4,"x":8150,"x2":9800},{"p":"A","s":4,"x":10800,"x2":12060},{"p":"A","s":4,"x":10200},
{"p":"A","s":5,"x":0,"x2":2530},{"p":"A","s":5,"x":3090},{"p":"A","s":5,"x":3370},{"p":"A","s":5,"x":3840},{"p":"A","s":5,"x":4500},{"p":"A","s":5,"x":4970},{"p":"A","s":5,"x":5720},{"p":"A","s":5,"x":6190},{"p":"A","s":5,"x":7030},{"p":"A","s":5,"x":7590},{"p":"A","s":5,"x":8530},{"p":"A","s":5,"x":9190},{"p":"A","s":5,"x":10310},{"p":"A","s":5,"x":10970},{"p":"A","s":5,"x":11440},{"p":"A","s":5,"x":12060},
{"p":"A","s":6,"x":2910},{"p":"A","s":6,"x":3190},{"p":"A","s":6,"x":4970},{"p":"A","s":6,"x":5440},{"p":"A","s":6,"x":7770},{"p":"A","s":6,"x":9280},{"p":"A","s":6,"x":10220},{"p":"A","s":6,"x":11530},{"p":"A","s":6,"x":11910},
{"p":"A","s":7,"x":0,"x2":12060},
{"p":"A","s":8,"x":0},{"p":"A","s":8,"x":1130},{"p":"A","s":8,"x":1410},{"p":"A","s":8,"x":1690,"x2":2060},{"p":"A","s":8,"x":5530},{"p":"A","s":8,"x":7120},{"p":"A","s":8,"x":8440},{"p":"A","s":8,"x":12060},
{"p":"A","s":9,"x":0,"x2":12060},
{"p":"A","s":10,"x":0},{"p":"A","s":10,"x":380},{"p":"A","s":10,"x":750},{"p":"A","s":10,"x":940,"x2":1880},{"p":"A","s":10,"x":2720},{"p":"A","s":10,"x":3000},{"p":"A","s":10,"x":4220},{"p":"A","s":10,"x":4500},{"p":"A","s":10,"x":4780},{"p":"A","s":10,"x":5440},{"p":"A","s":10,"x":6190},{"p":"A","s":10,"x":10220},{"p":"A","s":10,"x":11340},{"p":"A","s":10,"x":11810},
{"p":"B","s":1,"x":0,"x2":1200},{"p":"B","s":1,"x":1450,"x2":1700},{"p":"B","s":1,"x":1900,"x2":9880},
{"p":"B","s":2,"x":0,"x2":9880},
{"p":"B","s":3,"x":0,"x2":9880},
{"p":"B","s":4,"x":0,"x2":500},{"p":"B","s":4,"x":700,"x2":1300},{"p":"B","s":4,"x":1500,"x2":1900},{"p":"B","s":4,"x":2200,"x2":2700},{"p":"B","s":4,"x":2900,"x2":9880},
{"p":"B","s":5,"x":0,"x2":3300},{"p":"B","s":5,"x":3500,"x2":3800},{"p":"B","s":5,"x":4200,"x2":4600},{"p":"B","s":5,"x":5000,"x2":5300},{"p":"B","s":5,"x":5600,"x2":6200},{"p":"B","s":5,"x":6500,"x2":9880},
{"p":"B","s":6,"x":0,"x2":9880},
{"p":"B","s":7,"x":0,"x2":400},{"p":"B","s":7,"x":600,"x2":1300},{"p":"B","s":7,"x":1500,"x2":3300},{"p":"B","s":7,"x":3500,"x2":9880},
{"p":"B","s":8,"x":0},{"p":"B","s":8,"x":4570},{"p":"B","s":8,"x":8400},{"p":"B","s":8,"x":8600},{"p":"B","s":8,"x":9000},{"p":"B","s":8,"x":9880},
{"p":"B","s":9,"x":0,"x2":9880},
{"p":"B","s":10,"x":0},{"p":"B","s":10,"x":4860},{"p":"B","s":10,"x":5300},{"p":"B","s":10,"x":5450},{"p":"B","s":10,"x":7100},{"p":"B","s":10,"x":8400},{"p":"B","s":10,"x":8850},{"p":"B","s":10,"x":9150},{"p":"B","s":10,"x":9880},
{"p":"C","s":1,"x":0},{"p":"C","s":1,"x":1880},{"p":"C","s":1,"x":2060},{"p":"C","s":1,"x":2630},{"p":"C","s":1,"x":3090},{"p":"C","s":1,"x":3380},{"p":"C","s":1,"x":3660},{"p":"C","s":1,"x":6000},{"p":"C","s":1,"x":6840},{"p":"C","s":1,"x":6940},{"p":"C","s":1,"x":7030},{"p":"C","s":1,"x":7970},{"p":"C","s":1,"x":8810},{"p":"C","s":1,"x":13030},
{"p":"C","s":2,"x":0},{"p":"C","s":2,"x":1880},{"p":"C","s":2,"x":2060},{"p":"C","s":2,"x":3090},{"p":"C","s":2,"x":3280},{"p":"C","s":2,"x":3560},{"p":"C","s":2,"x":6000},{"p":"C","s":2,"x":6750},{"p":"C","s":2,"x":6840},{"p":"C","s":2,"x":7030},{"p":"C","s":2,"x":7220},{"p":"C","s":2,"x":13030},
{"p":"C","s":3,"x":1310},{"p":"C","s":3,"x":1970},{"p":"C","s":3,"x":3000},{"p":"C","s":3,"x":3280},{"p":"C","s":3,"x":3560},{"p":"C","s":3,"x":6090},{"p":"C","s":3,"x":6560},{"p":"C","s":3,"x":8810},{"p":"C","s":3,"x":13030},
{"p":"C","s":4,"x":90},{"p":"C","s":4,"x":280},{"p":"C","s":4,"x":1310},{"p":"C","s":4,"x":1690},{"p":"C","s":4,"x":7970},{"p":"C","s":4,"x":13030},
{"p":"C","s":5,"x":560},{"p":"C","s":5,"x":840},{"p":"C","s":5,"x":1030},{"p":"C","s":5,"x":6190},{"p":"C","s":5,"x":6660},{"p":"C","s":5,"x":13030},
{"p":"C","s":6,"x":660},{"p":"C","s":6,"x":2630},{"p":"C","s":6,"x":2810},{"p":"C","s":6,"x":3000},{"p":"C","s":6,"x":7500},{"p":"C","s":6,"x":13030},
{"p":"C","s":7,"x":0,"x2":13030},
{"p":"C","s":8,"x":0},{"p":"C","s":8,"x":5630},{"p":"C","s":8,"x":7590},{"p":"C","s":8,"x":10030},{"p":"C","s":8,"x":11630},{"p":"C","s":8,"x":11720},{"p":"C","s":8,"x":12280},{"p":"C","s":8,"x":12750},{"p":"C","s":8,"x":12840},{"p":"C","s":8,"x":13030},
{"p":"C","s":9,"x":0},{"p":"C","s":9,"x":660},{"p":"C","s":9,"x":2250},{"p":"C","s":9,"x":2440},{"p":"C","s":9,"x":2910},{"p":"C","s":9,"x":3380},{"p":"C","s":9,"x":4690},{"p":"C","s":9,"x":7130},{"p":"C","s":9,"x":8630},{"p":"C","s":9,"x":13030},
{"p":"C","s":10,"x":375},{"p":"C","s":10,"x":660},{"p":"C","s":10,"x":1780},{"p":"C","s":10,"x":2250},{"p":"C","s":10,"x":2810},{"p":"C","s":10,"x":3000},{"p":"C","s":10,"x":3190},{"p":"C","s":10,"x":3380},{"p":"C","s":10,"x":3560},{"p":"C","s":10,"x":3940},{"p":"C","s":10,"x":4310},{"p":"C","s":10,"x":4690},{"p":"C","s":10,"x":5060},{"p":"C","s":10,"x":6000},{"p":"C","s":10,"x":6190},{"p":"C","s":10,"x":6380},{"p":"C","s":10,"x":6560},{"p":"C","s":10,"x":6750},{"p":"C","s":10,"x":6940},{"p":"C","s":10,"x":7310},{"p":"C","s":10,"x":7690},{"p":"C","s":10,"x":8060},{"p":"C","s":10,"x":8440},{"p":"C","s":10,"x":9190},{"p":"C","s":10,"x":9940},{"p":"C","s":10,"x":10130},{"p":"C","s":10,"x":13030},
{"p":"D","s":1,"x":520,"x2":1550},{"p":"D","s":1,"x":4490},{"p":"D","s":1,"x":7760},{"p":"D","s":1,"x":11730},{"p":"D","s":1,"x":13110},
{"p":"D","s":2,"x":6900},{"p":"D","s":2,"x":12080},{"p":"D","s":2,"x":12590},{"p":"D","s":2,"x":12770},{"p":"D","s":2,"x":13110},
{"p":"D","s":3,"x":0,"x2":13110},
{"p":"D","s":4,"x":6900},{"p":"D","s":4,"x":7050},{"p":"D","s":4,"x":10700},{"p":"D","s":4,"x":11040},{"p":"D","s":4,"x":13110},
{"p":"D","s":5,"x":1550},{"p":"D","s":5,"x":6730,"x2":7250},{"p":"D","s":5,"x":8800},{"p":"D","s":5,"x":10010},{"p":"D","s":5,"x":11390},{"p":"D","s":5,"x":11730},{"p":"D","s":5,"x":12250},{"p":"D","s":5,"x":13110},
{"p":"D","s":6,"x":3280},{"p":"D","s":6,"x":4310},{"p":"D","s":6,"x":5180},{"p":"D","s":6,"x":5520},{"p":"D","s":6,"x":6040},{"p":"D","s":6,"x":6560},{"p":"D","s":6,"x":7250},{"p":"D","s":6,"x":7590},{"p":"D","s":6,"x":7940},{"p":"D","s":6,"x":9320},{"p":"D","s":6,"x":10700},{"p":"D","s":6,"x":11900},{"p":"D","s":6,"x":12420},{"p":"D","s":6,"x":13110},
{"p":"D","s":7,"x":4660},{"p":"D","s":7,"x":8630},{"p":"D","s":7,"x":11730},{"p":"D","s":7,"x":12940},
{"p":"D","s":8,"x":0},{"p":"D","s":8,"x":690,"x2":1380},{"p":"D","s":8,"x":5000},{"p":"D","s":8,"x":8630},{"p":"D","s":8,"x":12080},{"p":"D","s":8,"x":13110},
{"p":"D","s":9,"x":1550},{"p":"D","s":9,"x":4830},{"p":"D","s":9,"x":6900},{"p":"D","s":9,"x":7940},{"p":"D","s":9,"x":8280},{"p":"D","s":9,"x":12590},{"p":"D","s":9,"x":12940},{"p":"D","s":9,"x":13110},
{"p":"D","s":10,"x":350},{"p":"D","s":10,"x":1550},{"p":"D","s":10,"x":6900},{"p":"D","s":10,"x":13110},
{"p":"E","s":1,"x":0},{"p":"E","s":1,"x":1240},{"p":"E","s":1,"x":1620},{"p":"E","s":1,"x":2100},{"p":"E","s":1,"x":2290},{"p":"E","s":1,"x":2770},{"p":"E","s":1,"x":2960},{"p":"E","s":1,"x":3530},{"p":"E","s":1,"x":6880},{"p":"E","s":1,"x":7260},{"p":"E","s":1,"x":12030},
{"p":"E","s":2,"x":0},{"p":"E","s":2,"x":6210},{"p":"E","s":2,"x":7450},{"p":"E","s":2,"x":11560},{"p":"E","s":2,"x":11750},{"p":"E","s":2,"x":12030},
{"p":"E","s":3,"x":4200},{"p":"E","s":3,"x":4300},{"p":"E","s":3,"x":5830},{"p":"E","s":3,"x":6400},{"p":"E","s":3,"x":6590},{"p":"E","s":3,"x":8120},{"p":"E","s":3,"x":8400},{"p":"E","s":3,"x":9360},{"p":"E","s":3,"x":10600},{"p":"E","s":3,"x":10980},{"p":"E","s":3,"x":11170},{"p":"E","s":3,"x":11370},{"p":"E","s":3,"x":12030},
{"p":"E","s":4,"x":0},{"p":"E","s":4,"x":480},{"p":"E","s":4,"x":860},{"p":"E","s":4,"x":1050},{"p":"E","s":4,"x":1620},{"p":"E","s":4,"x":2010},{"p":"E","s":4,"x":2200},{"p":"E","s":4,"x":2390},{"p":"E","s":4,"x":2580},{"p":"E","s":4,"x":3530},{"p":"E","s":4,"x":3720},{"p":"E","s":4,"x":4010},{"p":"E","s":4,"x":4300},{"p":"E","s":4,"x":4580},{"p":"E","s":4,"x":6300},{"p":"E","s":4,"x":6780,"x2":7070},{"p":"E","s":4,"x":7350},{"p":"E","s":4,"x":8120},{"p":"E","s":4,"x":8600},{"p":"E","s":4,"x":12030},
{"p":"E","s":5,"x":1810},{"p":"E","s":5,"x":1910},{"p":"E","s":5,"x":2290},{"p":"E","s":5,"x":4300},{"p":"E","s":5,"x":6490},
{"p":"E","s":6,"x":0},{"p":"E","s":6,"x":290},{"p":"E","s":6,"x":480},{"p":"E","s":6,"x":670},{"p":"E","s":6,"x":3720},{"p":"E","s":6,"x":5250},{"p":"E","s":6,"x":6020},{"p":"E","s":6,"x":12030},
{"p":"E","s":7,"x":0},{"p":"E","s":7,"x":5060},{"p":"E","s":7,"x":6300},{"p":"E","s":7,"x":8400},{"p":"E","s":7,"x":11750},{"p":"E","s":7,"x":12030},
{"p":"E","s":8,"x":0},{"p":"E","s":8,"x":1910},{"p":"E","s":8,"x":3720},{"p":"E","s":8,"x":4110,"x2":4490},{"p":"E","s":8,"x":4680},{"p":"E","s":8,"x":5060},{"p":"E","s":8,"x":5830},{"p":"E","s":8,"x":6210},{"p":"E","s":8,"x":7830},{"p":"E","s":8,"x":8600},{"p":"E","s":8,"x":9070},{"p":"E","s":8,"x":11750},
{"p":"E","s":9,"x":380},{"p":"E","s":9,"x":760},{"p":"E","s":9,"x":960},{"p":"E","s":9,"x":1430},{"p":"E","s":9,"x":1620},{"p":"E","s":9,"x":1810},{"p":"E","s":9,"x":5060},{"p":"E","s":9,"x":5540},{"p":"E","s":9,"x":6300},{"p":"E","s":9,"x":6880},{"p":"E","s":9,"x":7450},{"p":"E","s":9,"x":9070},{"p":"E","s":9,"x":12030},
{"p":"E","s":10,"x":0},{"p":"E","s":10,"x":670,"x2":1050},{"p":"E","s":10,"x":1620},{"p":"E","s":10,"x":2480},{"p":"E","s":10,"x":2960},{"p":"E","s":10,"x":5060,"x2":5800},{"p":"E","s":10,"x":6200,"x2":7350},{"p":"E","s":10,"x":8120},{"p":"E","s":10,"x":9260,"x2":11750},
{"p":"F","s":1,"x":0},{"p":"F","s":1,"x":5180},{"p":"F","s":1,"x":6000},{"p":"F","s":1,"x":6930},{"p":"F","s":1,"x":7250},{"p":"F","s":1,"x":11590},{"p":"F","s":1,"x":12010},{"p":"F","s":1,"x":12110},
{"p":"F","s":2,"x":0},{"p":"F","s":2,"x":6520},{"p":"F","s":2,"x":10970},{"p":"F","s":2,"x":11070},{"p":"F","s":2,"x":11180},{"p":"F","s":2,"x":12110},
{"p":"F","s":3,"x":310},{"p":"F","s":3,"x":620},{"p":"F","s":3,"x":1450},{"p":"F","s":3,"x":1550},{"p":"F","s":3,"x":3210},{"p":"F","s":3,"x":4760},{"p":"F","s":3,"x":5180},{"p":"F","s":3,"x":6730},{"p":"F","s":3,"x":7760},
{"p":"F","s":4,"x":0},{"p":"F","s":4,"x":100},{"p":"F","s":4,"x":210},{"p":"F","s":4,"x":620},{"p":"F","s":4,"x":830},{"p":"F","s":4,"x":1040},{"p":"F","s":4,"x":3830},{"p":"F","s":4,"x":4550,"x2":4760},{"p":"F","s":4,"x":5490},{"p":"F","s":4,"x":5690},{"p":"F","s":4,"x":6830},{"p":"F","s":4,"x":7760},{"p":"F","s":4,"x":9730},
{"p":"F","s":5,"x":0},{"p":"F","s":5,"x":4140},{"p":"F","s":5,"x":6210},{"p":"F","s":5,"x":6310},{"p":"F","s":5,"x":6930},{"p":"F","s":5,"x":8180},{"p":"F","s":5,"x":8380},
{"p":"F","s":6,"x":0},{"p":"F","s":6,"x":2070},{"p":"F","s":6,"x":2480},{"p":"F","s":6,"x":3930},{"p":"F","s":6,"x":4550},{"p":"F","s":6,"x":6110},{"p":"F","s":6,"x":6620},{"p":"F","s":6,"x":10140},{"p":"F","s":6,"x":11180},{"p":"F","s":6,"x":11390},{"p":"F","s":6,"x":11590},{"p":"F","s":6,"x":12110},
{"p":"F","s":7,"x":0},{"p":"F","s":7,"x":2070},{"p":"F","s":7,"x":2790},{"p":"F","s":7,"x":3000},{"p":"F","s":7,"x":3310},{"p":"F","s":7,"x":3730},{"p":"F","s":7,"x":4760},{"p":"F","s":7,"x":6420},{"p":"F","s":7,"x":6520},{"p":"F","s":7,"x":7140},
{"p":"F","s":8,"x":0},{"p":"F","s":8,"x":1660},{"p":"F","s":8,"x":1760},{"p":"F","s":8,"x":1970},{"p":"F","s":8,"x":2480},{"p":"F","s":8,"x":2900},{"p":"F","s":8,"x":3110},{"p":"F","s":8,"x":3420},{"p":"F","s":8,"x":5590},{"p":"F","s":8,"x":5800},{"p":"F","s":8,"x":6420},{"p":"F","s":8,"x":8180},{"p":"F","s":8,"x":12010},
{"p":"F","s":9,"x":0},{"p":"F","s":9,"x":1760},{"p":"F","s":9,"x":6420},{"p":"F","s":9,"x":12110},
{"p":"F","s":10,"x":0},{"p":"F","s":10,"x":520},{"p":"F","s":10,"x":1350},{"p":"F","s":10,"x":2690},{"p":"F","s":10,"x":4350,"x2":4600},{"p":"F","s":10,"x":4900},{"p":"F","s":10,"x":5200},{"p":"F","s":10,"x":5500},{"p":"F","s":10,"x":5900,"x2":6620},{"p":"F","s":10,"x":7040},{"p":"F","s":10,"x":7450},{"p":"F","s":10,"x":8070},{"p":"F","s":10,"x":8690,"x2":9940},{"p":"F","s":10,"x":10450},{"p":"F","s":10,"x":10870},{"p":"F","s":10,"x":11180},{"p":"F","s":10,"x":11800},
{"p":"G","s":1,"x":0},{"p":"G","s":1,"x":580},{"p":"G","s":1,"x":930},{"p":"G","s":1,"x":1020},{"p":"G","s":1,"x":5760},{"p":"G","s":1,"x":6200},{"p":"G","s":1,"x":12260},
{"p":"G","s":2,"x":0},{"p":"G","s":2,"x":670},{"p":"G","s":2,"x":2420},{"p":"G","s":2,"x":2600},{"p":"G","s":2,"x":2780},{"p":"G","s":2,"x":6990},{"p":"G","s":2,"x":12260},
{"p":"G","s":3,"x":1630},{"p":"G","s":3,"x":1810},{"p":"G","s":3,"x":1990},{"p":"G","s":3,"x":2250},{"p":"G","s":3,"x":2950},{"p":"G","s":3,"x":3480},{"p":"G","s":3,"x":5670},{"p":"G","s":3,"x":6470},{"p":"G","s":3,"x":6550},{"p":"G","s":3,"x":6640},{"p":"G","s":3,"x":7430},{"p":"G","s":3,"x":8220},{"p":"G","s":3,"x":12260},
{"p":"G","s":4,"x":0},{"p":"G","s":4,"x":1630},{"p":"G","s":4,"x":1990},{"p":"G","s":4,"x":2510},{"p":"G","s":4,"x":3040},{"p":"G","s":4,"x":3390},{"p":"G","s":4,"x":5670},{"p":"G","s":4,"x":5760},{"p":"G","s":4,"x":6380},{"p":"G","s":4,"x":6550},{"p":"G","s":4,"x":6730},{"p":"G","s":4,"x":6990},{"p":"G","s":4,"x":8220},{"p":"G","s":4,"x":12260},
{"p":"G","s":5,"x":0},{"p":"G","s":5,"x":320},{"p":"G","s":5,"x":490},{"p":"G","s":5,"x":1460},{"p":"G","s":5,"x":2340,"x2":2700},{"p":"G","s":5,"x":2950,"x2":3300},{"p":"G","s":5,"x":3500,"x2":4200},{"p":"G","s":5,"x":4500,"x2":4800},{"p":"G","s":5,"x":5410,"x2":5800},{"p":"G","s":5,"x":6000,"x2":6730},{"p":"G","s":5,"x":7080},{"p":"G","s":5,"x":7780},{"p":"G","s":5,"x":8840},{"p":"G","s":5,"x":9450},
{"p":"G","s":6,"x":0,"x2":12260},
{"p":"G","s":7,"x":0},{"p":"G","s":7,"x":580,"x2":1300},{"p":"G","s":7,"x":1600,"x2":2600},{"p":"G","s":7,"x":2900,"x2":4970},{"p":"G","s":7,"x":5850,"x2":6500},{"p":"G","s":7,"x":6800,"x2":7960},{"p":"G","s":7,"x":8840},{"p":"G","s":7,"x":9370},{"p":"G","s":7,"x":10070},{"p":"G","s":7,"x":10950},{"p":"G","s":7,"x":12260},
{"p":"G","s":8,"x":0},{"p":"G","s":8,"x":320},{"p":"G","s":8,"x":1810},{"p":"G","s":8,"x":1900,"x2":2070},{"p":"G","s":8,"x":2510},{"p":"G","s":8,"x":2860},{"p":"G","s":8,"x":3570},{"p":"G","s":8,"x":3740},{"p":"G","s":8,"x":4450},{"p":"G","s":8,"x":4970},{"p":"G","s":8,"x":6110},{"p":"G","s":8,"x":6470},{"p":"G","s":8,"x":7080},{"p":"G","s":8,"x":7260},{"p":"G","s":8,"x":7960},{"p":"G","s":8,"x":8660},{"p":"G","s":8,"x":11300},
{"p":"G","s":9,"x":670},{"p":"G","s":9,"x":1630},{"p":"G","s":9,"x":2420},{"p":"G","s":9,"x":3040},{"p":"G","s":9,"x":3130},{"p":"G","s":9,"x":5760},{"p":"G","s":9,"x":6290},{"p":"G","s":9,"x":6730},{"p":"G","s":9,"x":8490},{"p":"G","s":9,"x":12260},
{"p":"G","s":10,"x":0},{"p":"G","s":10,"x":230},{"p":"G","s":10,"x":670},{"p":"G","s":10,"x":1190},{"p":"G","s":10,"x":1460},{"p":"G","s":10,"x":1810},{"p":"G","s":10,"x":3040},{"p":"G","s":10,"x":3130},{"p":"G","s":10,"x":6290},{"p":"G","s":10,"x":6730},{"p":"G","s":10,"x":12260},
{"p":"H","s":1,"x":0,"x2":390},{"p":"H","s":1,"x":590},{"p":"H","s":1,"x":790},{"p":"H","s":1,"x":890},{"p":"H","s":1,"x":2070},{"p":"H","s":1,"x":3740},{"p":"H","s":1,"x":4430,"x2":4820},{"p":"H","s":1,"x":5210},{"p":"H","s":1,"x":5410},{"p":"H","s":1,"x":5610},{"p":"H","s":1,"x":6000},{"p":"H","s":1,"x":6590},{"p":"H","s":1,"x":7570,"x2":7770},{"p":"H","s":1,"x":8750},{"p":"H","s":1,"x":9740},{"p":"H","s":1,"x":12100},
{"p":"H","s":2,"x":200},{"p":"H","s":2,"x":390},{"p":"H","s":2,"x":490},{"p":"H","s":2,"x":590},{"p":"H","s":2,"x":1380},{"p":"H","s":2,"x":1470},{"p":"H","s":2,"x":1770},{"p":"H","s":2,"x":2070},{"p":"H","s":2,"x":2950},{"p":"H","s":2,"x":3740},{"p":"H","s":2,"x":4430},{"p":"H","s":2,"x":5310},{"p":"H","s":2,"x":6590},{"p":"H","s":2,"x":7570},{"p":"H","s":2,"x":12100},
{"p":"H","s":3,"x":390},{"p":"H","s":3,"x":1280},{"p":"H","s":3,"x":1870},{"p":"H","s":3,"x":2070},{"p":"H","s":3,"x":2850},{"p":"H","s":3,"x":3640},{"p":"H","s":3,"x":4230},{"p":"H","s":3,"x":4430,"x2":5500},{"p":"H","s":3,"x":5700,"x2":7180},{"p":"H","s":3,"x":7470,"x2":8800},{"p":"H","s":3,"x":9000,"x2":10330},{"p":"H","s":3,"x":12100},
{"p":"H","s":4,"x":0,"x2":900},{"p":"H","s":4,"x":1100,"x2":3000},{"p":"H","s":4,"x":3200,"x2":4600},{"p":"H","s":4,"x":4800,"x2":7300},{"p":"H","s":4,"x":7500,"x2":9800},{"p":"H","s":4,"x":10000,"x2":11100},{"p":"H","s":4,"x":11510},{"p":"H","s":4,"x":12100},
{"p":"H","s":5,"x":1670},{"p":"H","s":5,"x":1870},{"p":"H","s":5,"x":2850},{"p":"H","s":5,"x":6490},{"p":"H","s":5,"x":12100},
{"p":"H","s":6,"x":0},{"p":"H","s":6,"x":790},{"p":"H","s":6,"x":1380},{"p":"H","s":6,"x":2460},{"p":"H","s":6,"x":2750},{"p":"H","s":6,"x":3840},{"p":"H","s":6,"x":4130},{"p":"H","s":6,"x":4430},{"p":"H","s":6,"x":6490},{"p":"H","s":6,"x":7970},{"p":"H","s":6,"x":11310},{"p":"H","s":6,"x":11510},{"p":"H","s":6,"x":11700},{"p":"H","s":6,"x":12100},
{"p":"H","s":7,"x":0},{"p":"H","s":7,"x":300},{"p":"H","s":7,"x":1280},{"p":"H","s":7,"x":1380},{"p":"H","s":7,"x":1770},{"p":"H","s":7,"x":2070},{"p":"H","s":7,"x":2660},{"p":"H","s":7,"x":3540},{"p":"H","s":7,"x":6590},{"p":"H","s":7,"x":6790},{"p":"H","s":7,"x":8460},{"p":"H","s":7,"x":9540},{"p":"H","s":7,"x":12100},
{"p":"H","s":8,"x":0},{"p":"H","s":8,"x":390},{"p":"H","s":8,"x":6390},{"p":"H","s":8,"x":6490},{"p":"H","s":8,"x":6590},{"p":"H","s":8,"x":10620},{"p":"H","s":8,"x":10720},{"p":"H","s":8,"x":10920},{"p":"H","s":8,"x":11210},
{"p":"H","s":9,"x":0},{"p":"H","s":9,"x":1670},{"p":"H","s":9,"x":1770},{"p":"H","s":9,"x":2750},{"p":"H","s":9,"x":2950},{"p":"H","s":9,"x":3150},{"p":"H","s":9,"x":3640},{"p":"H","s":9,"x":4620},{"p":"H","s":9,"x":4720},{"p":"H","s":9,"x":5610},{"p":"H","s":9,"x":6490},{"p":"H","s":9,"x":6590},{"p":"H","s":9,"x":7380},{"p":"H","s":9,"x":12100},
{"p":"H","s":10,"x":0},{"p":"H","s":10,"x":5110},{"p":"H","s":10,"x":6490},{"p":"H","s":10,"x":6880},{"p":"H","s":10,"x":11900},{"p":"H","s":10,"x":12100}
],
"met": [
{"p":"A","x":0,"y":0.7},{"p":"A","x":60,"y":0.55},{"p":"A","x":250,"y":0.45},{"p":"A","x":700,"y":0.37},{"p":"A","x":1300,"y":0.31},{"p":"A","x":2000,"y":0.25},{"p":"A","x":3000,"y":0.19},{"p":"A","x":4000,"y":0.15},{"p":"A","x":5500,"y":0.1},{"p":"A","x":7000,"y":0.03},{"p":"A","x":7600,"y":0},{"p":"A","x":8500,"y":-0.06},{"p":"A","x":9500,"y":-0.13},{"p":"A","x":10500,"y":-0.22},{"p":"A","x":11200,"y":-0.33},{"p":"A","x":11700,"y":-0.48},{"p":"A","x":11950,"y":-0.65},{"p":"A","x":12060,"y":-0.8},
{"p":"B","x":0,"y":0.64},{"p":"B","x":50,"y":0.5},{"p":"B","x":200,"y":0.42},{"p":"B","x":600,"y":0.35},{"p":"B","x":1330,"y":0.3},{"p":"B","x":2800,"y":0.2},{"p":"B","x":4280,"y":0.12},{"p":"B","x":5750,"y":0.04},{"p":"B","x":6350,"y":0},{"p":"B","x":7230,"y":-0.09},{"p":"B","x":8700,"y":-0.27},{"p":"B","x":9290,"y":-0.42},{"p":"B","x":9700,"y":-0.6},{"p":"B","x":9880,"y":-0.79},
{"p":"C","x":0,"y":0.47},{"p":"C","x":60,"y":0.38},{"p":"C","x":190,"y":0.33},{"p":"C","x":750,"y":0.23},{"p":"C","x":2060,"y":0.14},{"p":"C","x":3940,"y":0.09},{"p":"C","x":5810,"y":0.05},{"p":"C","x":7690,"y":0},{"p":"C","x":9560,"y":-0.07},{"p":"C","x":11440,"y":-0.19},{"p":"C","x":12370,"y":-0.3},{"p":"C","x":12840,"y":-0.4},{"p":"C","x":13030,"y":-0.47},
{"p":"D","x":0,"y":0.55},{"p":"D","x":60,"y":0.45},{"p":"D","x":300,"y":0.36},{"p":"D","x":900,"y":0.3},{"p":"D","x":2070,"y":0.25},{"p":"D","x":3800,"y":0.14},{"p":"D","x":7250,"y":0},{"p":"D","x":8970,"y":-0.09},{"p":"D","x":10700,"y":-0.21},{"p":"D","x":12080,"y":-0.5},{"p":"D","x":12770,"y":-0.86},{"p":"D","x":13110,"y":-1.36},
{"p":"E","x":0,"y":0.48},{"p":"E","x":60,"y":0.38},{"p":"E","x":290,"y":0.29},{"p":"E","x":1620,"y":0.18},{"p":"E","x":3530,"y":0.11},{"p":"E","x":5440,"y":0.05},{"p":"E","x":7350,"y":0},{"p":"E","x":9260,"y":-0.07},{"p":"E","x":11170,"y":-0.2},{"p":"E","x":11840,"y":-0.36},{"p":"E","x":12030,"y":-0.51},
{"p":"F","x":0,"y":0.45},{"p":"F","x":60,"y":0.34},{"p":"F","x":410,"y":0.25},{"p":"F","x":2070,"y":0.14},{"p":"F","x":4140,"y":0.09},{"p":"F","x":6210,"y":0.04},{"p":"F","x":8000,"y":0},{"p":"F","x":10350,"y":-0.08},{"p":"F","x":11390,"y":-0.17},{"p":"F","x":11900,"y":-0.3},{"p":"F","x":12110,"y":-0.51},
{"p":"G","x":0,"y":0.49},{"p":"G","x":50,"y":0.38},{"p":"G","x":230,"y":0.31},{"p":"G","x":1810,"y":0.19},{"p":"G","x":3570,"y":0.11},{"p":"G","x":5320,"y":0.06},{"p":"G","x":7080,"y":0.01},{"p":"G","x":8840,"y":-0.06},{"p":"G","x":10590,"y":-0.17},{"p":"G","x":11650,"y":-0.28},{"p":"G","x":12090,"y":-0.4},{"p":"G","x":12260,"y":-0.51},
{"p":"H","x":0,"y":0.46},{"p":"H","x":60,"y":0.35},{"p":"H","x":300,"y":0.25},{"p":"H","x":2070,"y":0.16},{"p":"H","x":4030,"y":0.09},{"p":"H","x":6000,"y":0.04},{"p":"H","x":7500,"y":0},{"p":"H","x":9930,"y":-0.08},{"p":"H","x":11510,"y":-0.2},{"p":"H","x":11900,"y":-0.31},{"p":"H","x":12100,"y":-0.48}
],
"lh": [
{"p":"A","t":"L","x":560,"y":0.56},{"p":"A","t":"H","x":11620,"y":-0.77},
{"p":"B","t":"L","x":1030,"y":0.51},{"p":"B","t":"H","x":9000,"y":-0.68},
{"p":"C","t":"L","x":560,"y":0.39},{"p":"C","t":"H","x":12750,"y":-0.5},
{"p":"D","t":"L","x":1210,"y":0.43},{"p":"D","t":"H","x":12250,"y":-1.29},
{"p":"E","t":"L","x":570,"y":0.38},{"p":"E","t":"H","x":11560,"y":-0.51},
{"p":"F","t":"L","x":720,"y":0.37},{"p":"F","t":"H","x":11700,"y":-0.51},
{"p":"G","t":"L","x":580,"y":0.38},{"p":"G","t":"H","x":11820,"y":-0.49},
{"p":"H","t":"L","x":690,"y":0.38},{"p":"H","t":"H","x":11700,"y":-0.5}
],
"leg": [
{"p":"A","k":0,"t":"APICAL_JUNCTION_COMPLEX","s":1},{"p":"A","k":1,"t":"RNA_POLYMERASE_II_TRANSCRI","s":2},{"p":"A","k":2,"t":"PTION_REGULATOR_COMPLEX"},{"p":"A","k":3,"t":"TRANSCRIPTION_REGULATOR_COMPLEX","s":3},{"p":"A","k":4,"t":"TIGHT_JUNCTION","s":4},{"p":"A","k":5,"t":"BLOOD_MICROPARTICLE","s":5},{"p":"A","k":6,"t":"CARBOXY_TERMINAL_DOMAI","s":6},{"p":"A","k":7,"t":"N_PROTEIN_KINASE_COMPLEX"},{"p":"A","k":8,"t":"CHROMOSOME","s":7},{"p":"A","k":9,"t":"MHC_CLASS_II_PROTEIN_COMPLEX","s":8},{"p":"A","k":10,"t":"NUCLEAR_BODY","s":9},{"p":"A","k":11,"t":"CLATHRIN_COATED_ENDOCYTIC","s":10},{"p":"A","k":12,"t":"_VESICLE_MEMBRANE"},
{"p":"B","k":0,"t":"UBIQUITIN_LIKE_PROTEIN_TRANSFERASE_ACTIVITY","s":1},{"p":"B","k":1,"t":"SEQUENCE_SPECIFIC_DNA_BINDING","s":2},{"p":"B","k":2,"t":"CIS_REGULATORY_REGION_SEQUENCE","s":3},{"p":"B","k":3,"t":"_SPECIFIC_DNA_BINDING"},{"p":"B","k":4,"t":"MAGNESIUM_ION_BINDING","s":4},{"p":"B","k":5,"t":"ENDOPEPTIDASE_REGULATOR_ACTIVITY","s":5},{"p":"B","k":6,"t":"DNA_BINDING_TRANSCRIPTION_FACTOR_ACTIVITY","s":6},{"p":"B","k":7,"t":"UBIQUITIN_LIKE_PROTEIN_LIGASE_ACTIVITY","s":7},{"p":"B","k":8,"t":"POLYNUCLEOTIDE_ADENYLYLTRANSFERASE_ACTIVITY","s":8},{"p":"B","k":9,"t":"TRANSCRIPTION_REGULATOR_ACTIVITY","s":9},{"p":"B","k":10,"t":" CYCLIN_DEPENDENT_PROTEIN_SERINE_THREONI","s":10},{"p":"B","k":11,"t":" NE H _KINASE_ACTIV ATOR_ACTIVITY"},
{"p":"C","k":0,"t":"EUKARYOTIC_48S_PREINITIATION_COMPLEX","s":1},{"p":"C","k":1,"t":"TRANSLATION_PREINITIATION_COMPLEX","s":2},{"p":"C","k":2,"t":"SAM_COMPLEX","s":3},{"p":"C","k":3,"t":"CALCITONIN_FAMILY_RECEPTOR_COMPLEX","s":4},{"p":"C","k":4,"t":"PHOSPHORYLASE_KINASE_COMPLEX","s":5},{"p":"C","k":5,"t":"PREFOLDIN_COMPLEX","s":6},{"p":"C","k":6,"t":"GOLGI_APPARATUS_SUBCOMPARTMENT","s":7},{"p":"C","k":7,"t":"PRONUCLEUS","s":8},{"p":"C","k":8,"t":"PROTEASOME_REGULATORY_PARTICLE_BASE","s":9},{"p":"C","k":9,"t":"_SUBCOMPLEX","f":true},{"p":"C","k":10,"t":"POLYSOME","s":10},
{"p":"D","k":0,"t":"NEGATIVE_REGULATION_OF_INTERLEUKIN_10_PRODUCTION","s":1},{"p":"D","k":1,"t":"EMBRYONIC_RETINA_MORPHOGENESIS_IN_CAMERA_TYPE_EYE","s":2},{"p":"D","k":2,"t":"TRANSCRIPTION_INITIATION_FROM_RNA_POLYMER","s":3},{"p":"D","k":3,"t":"ASE_II_PROMOTER"},{"p":"D","k":4,"t":"RIBOSOME_DISASSEMBLY","s":4},{"p":"D","k":5,"t":"MICROTUBULE_ANCHORING","s":5},{"p":"D","k":6,"t":"PROTEIN_K63_LINKED_DEUBIQUITINATION","s":6},{"p":"D","k":7,"t":"POSITIVE_REGULATION_OF_AXON_EXTENSI","s":7},{"p":"D","k":8,"t":"ON_INVOLVED_IN_AXON_GUIDANCE","f":true},{"p":"D","k":9,"t":"REGULATION_OF_ACTIVATION_OF_JANUS_KINASE_ACTIVITY","s":8},{"p":"D","k":10,"t":"3_UTR_MEDIATED_MRNA_DESTABILIZATION","s":9},{"p":"D","k":11,"t":"RESPONSE_TO_SODIUM_ARSENITE","s":10},
{"p":"E","k":0,"t":"DOUBLE_STRANDED_TELOMERIC","s":1},{"p":"E","k":1,"t":"_DNA_BINDING"},{"p":"E","k":2,"t":"NFAT_PROTEIN_BINDING","s":2},{"p":"E","k":3,"t":"SIALYLTRANSFERASE_ACTIVITY","s":3},{"p":"E","k":4,"t":"PROTEIN_FOLDING_CHAPERONE","s":4},{"p":"E","k":5,"t":"SNRNP_BINDING","s":5},{"p":"E","k":6,"t":"LIGASE_ACTIVITY_FORMING_CARBON","s":6},{"p":"E","k":7,"t":"_CARBON_BONDS"},{"p":"E","k":8,"t":"INTERFERON_RECEPTOR_ACTIVITY","s":7},{"p":"E","k":9,"t":"RNA_POLYMERASE_II_TRANSCRIPTION","s":8},{"p":"E","k":10,"t":"_COREPRESSOR_BINDING","f":true},{"p":"E","k":11,"t":"S100_PROTEIN_BINDING","s":9,"f":true},{"p":"E","k":12,"t":"PDZ_DOMAIN_BINDING","s":10},
{"p":"F","k":0,"t":"REGULATION_OF_MACROPHAGE","s":1},{"p":"F","k":1,"t":"_APOPTOTIC_PROCESS"},{"p":"F","k":2,"t":"PROTEIN_SIALYLATION","s":2,"f":true},{"p":"F","k":3,"t":"CORTICOSTEROID_RECEPTOR","s":3},{"p":"F","k":4,"t":"_SIGNALING_PATHWAY"},{"p":"F","k":5,"t":"FATTY_ACYL_COA_BIOSYNTHETIC_PROCESS","s":4},{"p":"F","k":6,"t":"BLEB_ASSEMBLY","s":5},{"p":"F","k":7,"t":"CELL_PROLIFERATION_IN_HINDBRAIN","s":6},{"p":"F","k":8,"t":"NEGATIVE_REGULATION_OF_MRNA","s":7},{"p":"F","k":9,"t":"_SPLICING_VIA_SPLICEOSOME"},{"p":"F","k":10,"t":"FORMATION_OF_CYTOPLASMIC_TRANSLATION","s":8},{"p":"F","k":11,"t":"_INITIATION_COMPLEX"},{"p":"F","k":12,"t":"VIRAL_TRANSLATIONAL_TERMINATION","s":9,"f":true},{"p":"F","k":13,"t":"_REINITIATION"},{"p":"F","k":14,"t":"POST_GOLGI_VESICLE_MEDIATED_TRANSPORT","s":10},
{"p":"G","k":0,"t":"PHOSPHORYLASE_KINASE_COMPLEX","s":1},{"p":"G","k":1,"t":"PREFOLDIN_COMPLEX","s":2},{"p":"G","k":2,"t":"EUKARYOTIC_48S_PREINITIATION_COMPLEX","s":3},{"p":"G","k":3,"t":"TRANSLATION_PREINITIATION_COMPLEX","s":4},{"p":"G","k":4,"t":"POLYSOME","s":5},{"p":"G","k":5,"t":"GOLGI_APPARATUS_SUBCOMPARTMENT","s":6},{"p":"G","k":6,"t":"U2_TYPE_SPLICEOSOMAL_COMPLEX","s":7},{"p":"G","k":7,"t":"SAGA_TYPE_COMPLEX","s":8},{"p":"G","k":8,"t":"PROTEASOME_REGULATORY_PARTICLE","s":9},{"p":"G","k":9,"t":"_BASE_SUBCOMPLEX","f":true},{"p":"G","k":10,"t":"PROTEASOME_ACCESSORY_COMPLEX","s":10},
{"p":"H","k":0,"t":"FATTY_ACYL_COA_BIOSYNTHETIC_PROCESS","s":1},{"p":"H","k":1,"t":"CORTICOSTEROID_RECEPTOR_SIGNALING_PATHWAY","s":2},{"p":"H","k":2,"t":"POST_GOLGI_VESICLE_MEDIATED_TRANSPORT","s":3},{"p":"H","k":3,"t":"REGULATION_OF_DNA_BIOSYNTHETIC_PROCESS","s":4},{"p":"H","k":4,"t":"VIRAL_TRANSLATIONAL_TERMINATION","s":5},{"p":"H","k":5,"t":"_REINITIATI ON"},{"p":"H","k":6,"t":"CELL_PROLIFERATION_IN_HINDBRAIN","s":6},{"p":"H","k":7,"t":"NUCLEUS_LOCALIZATION","s":7},{"p":"H","k":8,"t":"PROTEIN_SIALYLATION","s":8},{"p":"H","k":9,"t":"NEGATIVE_REGULATION_OF_MRNA_SPLICING","s":9},{"p":"H","k":10,"t":"_VIA_SPLICEOSOME","f":true},{"p":"H","k":11,"t":"REGULATION_OF_MACROPHAGE_APOPTO","s":10},{"p":"H","k":12,"t":"TIC_PROCES S"}
]
},
"spacing": -8,
"vconcat": [
{"spacing": 0, "vconcat": [
{"spacing": 61, "hconcat": [
{"spacing": 4, "hconcat": [
 {"title": {"text": "A", "anchor": "start", "frame": "bounds", "font": "Liberation Sans", "fontSize": 24, "fontWeight": "bold", "color": "#000", "offset": 3}, "spacing": 0, "vconcat": [
  {"width": 233, "height": 109, "data": {"name": "es"}, "transform": [{"filter": "datum.p == 'A'"}], "layer": [
   {"mark": {"type": "line", "strokeWidth": 1.7}, "encoding": {
    "x": {"field": "x", "type": "quantitative", "scale": {"domain": [-560, 12560], "nice": false, "zero": false}, "axis": null},
    "y": {"field": "y", "type": "quantitative", "scale": {"domain": [-0.71, 0.94], "nice": false, "zero": false}, "axis": {"title": "Enrichment score", "values": [-0.4, -0.2, 0, 0.2, 0.4, 0.6], "format": ".1f", "labelOverlap": false, "tickCount": 30}},
    "color": {"field": "s", "type": "nominal", "scale": {"domain": [1,2,3,4,5,6,7,8,9,10], "range": ["#E64B35","#4DBBD5","#00A087","#3C5488","#F39B7F","#8491B4","#91D1C2","#DC0000","#7E6148","#B09C85"]}, "legend": null}}},
   {"transform": [{"aggregate": [{"op": "count", "as": "n"}]}], "mark": {"type": "rule", "color": "#d4d4d4"}, "encoding": {"y": {"datum": 0, "type": "quantitative"}}}
  ]},
  {"width": 233, "height": 56, "data": {"name": "hits"}, "transform": [{"filter": "datum.p == 'A'"}],
   "encoding": {
    "x": {"field": "x", "type": "quantitative", "scale": {"domain": [-560, 12560], "nice": false, "zero": false}, "axis": null},
    "y": {"field": "s", "type": "ordinal", "scale": {"type": "band", "domain": [1,2,3,4,5,6,7,8,9,10], "paddingInner": 0, "paddingOuter": 0}, "axis": {"title": null, "labels": false, "ticks": false, "domain": false, "grid": true, "gridColor": "#222", "bandPosition": 0}},
    "color": {"field": "s", "type": "nominal", "legend": null}},
   "layer": [
    {"transform": [{"filter": "datum.x2 == null"}], "mark": {"type": "tick", "orient": "vertical", "thickness": 2.2, "size": 4.5}},
    {"transform": [{"filter": "datum.x2 != null"}], "mark": {"type": "bar", "height": {"band": 0.8}}, "encoding": {"x2": {"field": "x2"}}}
  ]},
  {"width": 233, "height": 110, "layer": [
   {"data": {"name": "met"}, "transform": [{"filter": "datum.p == 'A'"}], "mark": {"type": "area", "color": "#c9c9c9", "interpolate": "monotone"}, "encoding": {
    "x": {"field": "x", "type": "quantitative", "scale": {"domain": [-560, 12560], "nice": false, "zero": false}, "axis": {"title": "Rank in Ordered DataSet", "values": [0,2000,4000,6000,8000,10000,12000], "format": ",.0f", "labelOverlap": false, "tickCount": 30, "titleFontSize": 16, "titlePadding": 8}},
    "y": {"field": "y", "type": "quantitative", "scale": {"domain": [-0.96, 0.83], "nice": false, "zero": false}, "axis": {"title": "Ranked list metric", "values": [-0.6,-0.4,-0.2,0,0.2,0.4,0.6], "format": ".1f", "labelOverlap": false, "tickCount": 30}},
    "y2": {"datum": 0}}},
   {"data": {"name": "met"}, "transform": [{"filter": "datum.p == 'A'"}, {"aggregate": [{"op": "count", "as": "n"}]}], "mark": {"type": "rule", "color": "#b5b5b5", "strokeDash": [2, 2]}, "encoding": {"y": {"datum": 0, "type": "quantitative"}}},
   {"data": {"name": "lh"}, "transform": [{"filter": "datum.p == 'A'"}], "mark": {"type": "text", "font": "Liberation Serif", "fontSize": 16, "color": "#111"}, "encoding": {"x": {"field": "x", "type": "quantitative"}, "y": {"field": "y", "type": "quantitative"}, "text": {"field": "t"}}}
  ]}
 ]},
 {"width": 170, "height": 275, "view": {"stroke": null},
  "title": {"text": "CLP1_CC", "anchor": "middle", "frame": "group", "offset": -6, "font": "Liberation Serif", "fontSize": 16, "fontWeight": "bold", "color": "#111"},
  "data": {"name": "leg"}, "transform": [{"filter": "datum.p == 'A'"}],
  "encoding": {"y": {"field": "k", "type": "quantitative", "scale": {"domain": [-2.18, 12.82], "reverse": true, "nice": false, "zero": false}, "axis": null}, "x": {"datum": 0, "type": "quantitative", "scale": {"domain": [0, 1], "nice": false, "zero": false}, "axis": null}},
  "layer": [
   {"transform": [{"filter": "datum.s != null"}], "mark": {"type": "tick", "orient": "horizontal", "thickness": 2, "size": 6, "xOffset": 3, "yOffset": -3}, "encoding": {"color": {"field": "s", "type": "nominal", "legend": null}}},
   {"mark": {"type": "text", "align": "left", "baseline": "middle", "dx": 7, "font": "Liberation Serif", "fontSize": 14}, "encoding": {"text": {"field": "t"}, "color": {"condition": {"test": "datum.f", "value": "#8a7e72"}, "value": "#1a1a1a"}}}
  ]}
]},
{"spacing": 0, "hconcat": [
 {"title": {"text": "B", "anchor": "start", "frame": "bounds", "font": "Liberation Sans", "fontSize": 24, "fontWeight": "bold", "color": "#000", "offset": 3}, "spacing": 0, "vconcat": [
  {"width": 125, "height": 108, "data": {"name": "es"}, "transform": [{"filter": "datum.p == 'B'"}], "layer": [
   {"mark": {"type": "line", "strokeWidth": 1.7}, "encoding": {
    "x": {"field": "x", "type": "quantitative", "scale": {"domain": [-600, 10300], "nice": false, "zero": false}, "axis": null},
    "y": {"field": "y", "type": "quantitative", "scale": {"domain": [-0.78, 0.54], "nice": false, "zero": false}, "axis": {"title": "Enrichment score", "values": [-0.6, -0.4, -0.2, 0, 0.2, 0.4], "format": ".1f", "labelOverlap": false, "tickCount": 30}},
    "color": {"field": "s", "type": "nominal", "scale": {"domain": [1,2,3,4,5,6,7,8,9,10], "range": ["#E64B35","#4DBBD5","#00A087","#3C5488","#F39B7F","#8491B4","#91D1C2","#DC0000","#7E6148","#B09C85"]}, "legend": null}}},
   {"transform": [{"aggregate": [{"op": "count", "as": "n"}]}], "mark": {"type": "rule", "color": "#d4d4d4"}, "encoding": {"y": {"datum": 0, "type": "quantitative"}}}
  ]},
  {"width": 125, "height": 55, "data": {"name": "hits"}, "transform": [{"filter": "datum.p == 'B'"}],
   "encoding": {
    "x": {"field": "x", "type": "quantitative", "scale": {"domain": [-600, 10300], "nice": false, "zero": false}, "axis": null},
    "y": {"field": "s", "type": "ordinal", "scale": {"type": "band", "domain": [1,2,3,4,5,6,7,8,9,10], "paddingInner": 0, "paddingOuter": 0}, "axis": {"title": null, "labels": false, "ticks": false, "domain": false, "grid": true, "gridColor": "#222", "bandPosition": 0}},
    "color": {"field": "s", "type": "nominal", "legend": null}},
   "layer": [
    {"transform": [{"filter": "datum.x2 == null"}], "mark": {"type": "tick", "orient": "vertical", "thickness": 2.2, "size": 4.5}},
    {"transform": [{"filter": "datum.x2 != null"}], "mark": {"type": "bar", "height": {"band": 0.8}}, "encoding": {"x2": {"field": "x2"}}}
  ]},
  {"width": 125, "height": 110, "layer": [
   {"data": {"name": "met"}, "transform": [{"filter": "datum.p == 'B'"}], "mark": {"type": "area", "color": "#c9c9c9", "interpolate": "monotone"}, "encoding": {
    "x": {"field": "x", "type": "quantitative", "scale": {"domain": [-600, 10300], "nice": false, "zero": false}, "axis": {"title": "Rank in Ordered DataSet", "values": [0,2000,4000,6000,8000,10000], "format": "d", "labelOverlap": false, "tickCount": 30, "labelFontSize": 11, "titleFontSize": 16, "titlePadding": 8}},
    "y": {"field": "y", "type": "quantitative", "scale": {"domain": [-0.92, 0.79], "nice": false, "zero": false}, "axis": {"title": "Ranked list metric", "values": [-0.6,-0.4,-0.2,0,0.2,0.4,0.6], "format": ".1f", "labelOverlap": false, "tickCount": 30}},
    "y2": {"datum": 0}}},
   {"data": {"name": "met"}, "transform": [{"filter": "datum.p == 'B'"}, {"aggregate": [{"op": "count", "as": "n"}]}], "mark": {"type": "rule", "color": "#b5b5b5", "strokeDash": [2, 2]}, "encoding": {"y": {"datum": 0, "type": "quantitative"}}},
   {"data": {"name": "lh"}, "transform": [{"filter": "datum.p == 'B'"}], "mark": {"type": "text", "font": "Liberation Serif", "fontSize": 16, "color": "#111"}, "encoding": {"x": {"field": "x", "type": "quantitative"}, "y": {"field": "y", "type": "quantitative"}, "text": {"field": "t"}}}
  ]}
 ]},
 {"width": 416, "height": 273, "view": {"stroke": null},
  "title": {"text": "CLP1_MF", "anchor": "middle", "frame": "group", "offset": -8, "font": "Liberation Serif", "fontSize": 16, "fontWeight": "bold", "color": "#111"},
  "data": {"name": "leg"}, "transform": [{"filter": "datum.p == 'B'"}],
  "encoding": {"y": {"field": "k", "type": "quantitative", "scale": {"domain": [-1.88, 13.2], "reverse": true, "nice": false, "zero": false}, "axis": null}, "x": {"datum": 0, "type": "quantitative", "scale": {"domain": [0, 1], "nice": false, "zero": false}, "axis": null}},
  "layer": [
   {"transform": [{"filter": "datum.s != null"}], "mark": {"type": "tick", "orient": "horizontal", "thickness": 2, "size": 6, "xOffset": 3, "yOffset": -3}, "encoding": {"color": {"field": "s", "type": "nominal", "legend": null}}},
   {"mark": {"type": "text", "align": "left", "baseline": "middle", "dx": 7, "font": "Liberation Serif", "fontSize": 14}, "encoding": {"text": {"field": "t"}, "color": {"condition": {"test": "datum.f", "value": "#8a7e72"}, "value": "#1a1a1a"}}}
  ]}
]}
]},
{"spacing": 14, "hconcat": [
{"spacing": 4, "hconcat": [
 {"title": {"text": "C", "anchor": "start", "frame": "bounds", "font": "Liberation Sans", "fontSize": 24, "fontWeight": "bold", "color": "#000", "offset": 3}, "spacing": 0, "vconcat": [
  {"width": 246, "height": 110, "data": {"name": "es"}, "transform": [{"filter": "datum.p == 'C'"}], "layer": [
   {"mark": {"type": "line", "strokeWidth": 1.7}, "encoding": {
    "x": {"field": "x", "type": "quantitative", "scale": {"domain": [-510, 13310], "nice": false, "zero": false}, "axis": null},
    "y": {"field": "y", "type": "quantitative", "scale": {"domain": [-0.81, 1.03], "nice": false, "zero": false}, "axis": {"title": "Enrichment score", "values": [-0.6, -0.4, -0.2, 0, 0.2, 0.4, 0.6, 0.8], "format": ".1f", "labelOverlap": false, "tickCount": 30}},
    "color": {"field": "s", "type": "nominal", "scale": {"domain": [1,2,3,4,5,6,7,8,9,10], "range": ["#E64B35","#4DBBD5","#00A087","#3C5488","#F39B7F","#8491B4","#91D1C2","#DC0000","#7E6148","#B09C85"]}, "legend": null}}},
   {"transform": [{"aggregate": [{"op": "count", "as": "n"}]}], "mark": {"type": "rule", "color": "#d4d4d4"}, "encoding": {"y": {"datum": 0, "type": "quantitative"}}}
  ]},
  {"width": 246, "height": 57, "data": {"name": "hits"}, "transform": [{"filter": "datum.p == 'C'"}],
   "encoding": {
    "x": {"field": "x", "type": "quantitative", "scale": {"domain": [-510, 13310], "nice": false, "zero": false}, "axis": null},
    "y": {"field": "s", "type": "ordinal", "scale": {"type": "band", "domain": [1,2,3,4,5,6,7,8,9,10], "paddingInner": 0, "paddingOuter": 0}, "axis": {"title": null, "labels": false, "ticks": false, "domain": false, "grid": true, "gridColor": "#222", "bandPosition": 0}},
    "color": {"field": "s", "type": "nominal", "legend": null}},
   "layer": [
    {"transform": [{"filter": "datum.x2 == null"}], "mark": {"type": "tick", "orient": "vertical", "thickness": 2.2, "size": 4.5}},
    {"transform": [{"filter": "datum.x2 != null"}], "mark": {"type": "bar", "height": {"band": 0.8}}, "encoding": {"x2": {"field": "x2"}}}
  ]},
  {"width": 246, "height": 108, "layer": [
   {"data": {"name": "met"}, "transform": [{"filter": "datum.p == 'C'"}], "mark": {"type": "area", "color": "#c9c9c9", "interpolate": "monotone"}, "encoding": {
    "x": {"field": "x", "type": "quantitative", "scale": {"domain": [-510, 13310], "nice": false, "zero": false}, "axis": {"title": "Rank in Ordered DataSet", "values": [0,2000,4000,6000,8000,10000,12000], "format": ",.0f", "labelOverlap": false, "tickCount": 30, "titleFontSize": 16, "titlePadding": 8}},
    "y": {"field": "y", "type": "quantitative", "scale": {"domain": [-0.59, 0.54], "nice": false, "zero": false}, "axis": {"title": "Ranked list metric", "values": [-0.4,-0.2,0,0.2,0.4], "format": ".1f", "labelOverlap": false, "tickCount": 30}},
    "y2": {"datum": 0}}},
   {"data": {"name": "met"}, "transform": [{"filter": "datum.p == 'C'"}, {"aggregate": [{"op": "count", "as": "n"}]}], "mark": {"type": "rule", "color": "#b5b5b5", "strokeDash": [2, 2]}, "encoding": {"y": {"datum": 0, "type": "quantitative"}}},
   {"data": {"name": "lh"}, "transform": [{"filter": "datum.p == 'C'"}], "mark": {"type": "text", "font": "Liberation Serif", "fontSize": 16, "color": "#111"}, "encoding": {"x": {"field": "x", "type": "quantitative"}, "y": {"field": "y", "type": "quantitative"}, "text": {"field": "t"}}}
  ]}
 ]},
 {"width": 166, "height": 275, "view": {"stroke": null},
  "title": {"text": "LRPPRC_CC", "anchor": "middle", "frame": "group", "offset": -19, "font": "Liberation Serif", "fontSize": 16, "fontWeight": "bold", "color": "#111"},
  "data": {"name": "leg"}, "transform": [{"filter": "datum.p == 'C'"}],
  "encoding": {"y": {"field": "k", "type": "quantitative", "scale": {"domain": [-4.44, 10.84], "reverse": true, "nice": false, "zero": false}, "axis": null}, "x": {"datum": 0, "type": "quantitative", "scale": {"domain": [0, 1], "nice": false, "zero": false}, "axis": null}},
  "layer": [
   {"transform": [{"filter": "datum.s != null"}], "mark": {"type": "tick", "orient": "horizontal", "thickness": 2, "size": 6, "xOffset": 3, "yOffset": -3}, "encoding": {"color": {"field": "s", "type": "nominal", "legend": null}}},
   {"mark": {"type": "text", "align": "left", "baseline": "middle", "dx": 7, "font": "Liberation Serif", "fontSize": 14}, "encoding": {"text": {"field": "t"}, "color": {"condition": {"test": "datum.f", "value": "#8a7e72"}, "value": "#1a1a1a"}}}
  ]}
]},
{"spacing": 4, "hconcat": [
 {"title": {"text": "D", "anchor": "start", "frame": "bounds", "font": "Liberation Sans", "fontSize": 24, "fontWeight": "bold", "color": "#000", "offset": 3}, "spacing": 0, "vconcat": [
  {"width": 146, "height": 95, "data": {"name": "es"}, "transform": [{"filter": "datum.p == 'D'"}], "layer": [
   {"mark": {"type": "line", "strokeWidth": 1.7}, "encoding": {
    "x": {"field": "x", "type": "quantitative", "scale": {"domain": [-1040, 14080], "nice": false, "zero": false}, "axis": null},
    "y": {"field": "y", "type": "quantitative", "scale": {"domain": [-0.74, 1.06], "nice": false, "zero": false}, "axis": {"title": "Enrichment score", "values": [-0.5, 0, 0.5], "format": ".1f", "labelOverlap": false, "tickCount": 30, "labelExpr": "replace(datum.label, '-', '−')"}},
    "color": {"field": "s", "type": "nominal", "scale": {"domain": [1,2,3,4,5,6,7,8,9,10], "range": ["#E64B35","#4DBBD5","#00A087","#3C5488","#F39B7F","#8491B4","#91D1C2","#DC0000","#7E6148","#B09C85"]}, "legend": null}}},
   {"transform": [{"aggregate": [{"op": "count", "as": "n"}]}], "mark": {"type": "rule", "color": "#d4d4d4"}, "encoding": {"y": {"datum": 0, "type": "quantitative"}}}
  ]},
  {"width": 146, "height": 62, "data": {"name": "hits"}, "transform": [{"filter": "datum.p == 'D'"}],
   "encoding": {
    "x": {"field": "x", "type": "quantitative", "scale": {"domain": [-1040, 14080], "nice": false, "zero": false}, "axis": null},
    "y": {"field": "s", "type": "ordinal", "scale": {"type": "band", "domain": [1,2,3,4,5,6,7,8,9,10], "paddingInner": 0, "paddingOuter": 0}, "axis": {"title": null, "labels": false, "ticks": false, "domain": false, "grid": true, "gridColor": "#222", "bandPosition": 0}},
    "color": {"field": "s", "type": "nominal", "legend": null}},
   "layer": [
    {"transform": [{"filter": "datum.x2 == null"}], "mark": {"type": "tick", "orient": "vertical", "thickness": 2.2, "size": 5}},
    {"transform": [{"filter": "datum.x2 != null"}], "mark": {"type": "bar", "height": {"band": 0.8}}, "encoding": {"x2": {"field": "x2"}}}
  ]},
  {"width": 146, "height": 120, "layer": [
   {"data": {"name": "met"}, "transform": [{"filter": "datum.p == 'D'"}], "mark": {"type": "area", "color": "#c9c9c9", "interpolate": "monotone"}, "encoding": {
    "x": {"field": "x", "type": "quantitative", "scale": {"domain": [-1040, 14080], "nice": false, "zero": false}, "axis": {"title": "Rank in Ordered", "values": [0,2000,4000,6000,8000,10000,12000], "format": ",.0f", "labelOverlap": false, "tickCount": 30, "labelFontSize": 11, "titleFontSize": 16, "titlePadding": 4}},
    "y": {"field": "y", "type": "quantitative", "scale": {"domain": [-1.68, 0.89], "nice": false, "zero": false}, "axis": {"title": "Ranked list metric", "values": [-0.6,-0.4,-0.2,0,0.2,0.4,0.6], "format": ".1f", "labelOverlap": false, "tickCount": 30, "labelFontSize": 11}},
    "y2": {"datum": 0}}},
   {"data": {"name": "met"}, "transform": [{"filter": "datum.p == 'D'"}, {"aggregate": [{"op": "count", "as": "n"}]}], "mark": {"type": "rule", "color": "#b5b5b5", "strokeDash": [2, 2]}, "encoding": {"y": {"datum": 0, "type": "quantitative"}}},
   {"data": {"name": "lh"}, "transform": [{"filter": "datum.p == 'D'"}], "mark": {"type": "text", "font": "Liberation Serif", "fontSize": 16, "color": "#111"}, "encoding": {"x": {"field": "x", "type": "quantitative"}, "y": {"field": "y", "type": "quantitative"}, "text": {"field": "t"}}}
  ]}
 ]},
 {"width": 380, "height": 277, "view": {"stroke": null},
  "title": {"text": "CLP1_BP", "anchor": "middle", "frame": "group", "offset": -4, "font": "Liberation Serif", "fontSize": 16, "fontWeight": "bold", "color": "#111"},
  "data": {"name": "leg"}, "transform": [{"filter": "datum.p == 'D'"}],
  "encoding": {"y": {"field": "k", "type": "quantitative", "scale": {"domain": [-2.72, 11.78], "reverse": true, "nice": false, "zero": false}, "axis": null}, "x": {"datum": 0, "type": "quantitative", "scale": {"domain": [0, 1], "nice": false, "zero": false}, "axis": null}},
  "layer": [
   {"transform": [{"filter": "datum.s != null"}], "mark": {"type": "tick", "orient": "horizontal", "thickness": 2, "size": 6, "xOffset": 3, "yOffset": -3}, "encoding": {"color": {"field": "s", "type": "nominal", "legend": null}}},
   {"mark": {"type": "text", "align": "left", "baseline": "middle", "dx": 7, "font": "Liberation Serif", "fontSize": 14}, "encoding": {"text": {"field": "t"}, "color": {"condition": {"test": "datum.f", "value": "#8a7e72"}, "value": "#1a1a1a"}}}
  ]}
]}
]}
]},
{"spacing": 10, "vconcat": [
{"spacing": 79, "hconcat": [
{"spacing": 4, "hconcat": [
 {"title": {"text": "E", "anchor": "start", "frame": "bounds", "font": "Liberation Sans", "fontSize": 24, "fontWeight": "bold", "color": "#000", "offset": 3}, "spacing": 0, "vconcat": [
  {"width": 225, "height": 110, "data": {"name": "es"}, "transform": [{"filter": "datum.p == 'E'"}], "layer": [
   {"mark": {"type": "line", "strokeWidth": 1.7}, "encoding": {
    "x": {"field": "x", "type": "quantitative", "scale": {"domain": [-480, 12420], "nice": false, "zero": false}, "axis": null},
    "y": {"field": "y", "type": "quantitative", "scale": {"domain": [-0.68, 1.0], "nice": false, "zero": false}, "axis": {"title": "Enrichment score", "values": [-0.4, -0.2, 0, 0.2, 0.4, 0.6, 0.8], "format": ".1f", "labelOverlap": false, "tickCount": 30}},
    "color": {"field": "s", "type": "nominal", "scale": {"domain": [1,2,3,4,5,6,7,8,9,10], "range": ["#E64B35","#4DBBD5","#00A087","#3C5488","#F39B7F","#8491B4","#91D1C2","#DC0000","#7E6148","#B09C85"]}, "legend": null}}},
   {"transform": [{"aggregate": [{"op": "count", "as": "n"}]}], "mark": {"type": "rule", "color": "#d4d4d4"}, "encoding": {"y": {"datum": 0, "type": "quantitative"}}}
  ]},
  {"width": 225, "height": 57, "data": {"name": "hits"}, "transform": [{"filter": "datum.p == 'E'"}],
   "encoding": {
    "x": {"field": "x", "type": "quantitative", "scale": {"domain": [-480, 12420], "nice": false, "zero": false}, "axis": null},
    "y": {"field": "s", "type": "ordinal", "scale": {"type": "band", "domain": [1,2,3,4,5,6,7,8,9,10], "paddingInner": 0, "paddingOuter": 0}, "axis": {"title": null, "labels": false, "ticks": false, "domain": false, "grid": true, "gridColor": "#222", "bandPosition": 0}},
    "color": {"field": "s", "type": "nominal", "legend": null}},
   "layer": [
    {"transform": [{"filter": "datum.x2 == null"}], "mark": {"type": "tick", "orient": "vertical", "thickness": 2.2, "size": 4.5}},
    {"transform": [{"filter": "datum.x2 != null"}], "mark": {"type": "bar", "height": {"band": 0.8}}, "encoding": {"x2": {"field": "x2"}}}
  ]},
  {"width": 225, "height": 110, "layer": [
   {"data": {"name": "met"}, "transform": [{"filter": "datum.p == 'E'"}], "mark": {"type": "area", "color": "#c9c9c9", "interpolate": "monotone"}, "encoding": {
    "x": {"field": "x", "type": "quantitative", "scale": {"domain": [-480, 12420], "nice": false, "zero": false}, "axis": {"title": "Rank in Ordered DataSet", "values": [0,2000,4000,6000,8000,10000,12000], "format": ",.0f", "labelOverlap": false, "tickCount": 30, "titleFontSize": 16, "titlePadding": 8}},
    "y": {"field": "y", "type": "quantitative", "scale": {"domain": [-0.6, 0.56], "nice": false, "zero": false}, "axis": {"title": "Ranked list metric", "values": [-0.4,-0.2,0,0.2,0.4], "format": ".1f", "labelOverlap": false, "tickCount": 30}},
    "y2": {"datum": 0}}},
   {"data": {"name": "met"}, "transform": [{"filter": "datum.p == 'E'"}, {"aggregate": [{"op": "count", "as": "n"}]}], "mark": {"type": "rule", "color": "#b5b5b5", "strokeDash": [2, 2]}, "encoding": {"y": {"datum": 0, "type": "quantitative"}}},
   {"data": {"name": "lh"}, "transform": [{"filter": "datum.p == 'E'"}], "mark": {"type": "text", "font": "Liberation Serif", "fontSize": 16, "color": "#111"}, "encoding": {"x": {"field": "x", "type": "quantitative"}, "y": {"field": "y", "type": "quantitative"}, "text": {"field": "t"}}}
  ]}
 ]},
 {"width": 218, "height": 277, "view": {"stroke": null},
  "title": {"text": "LRPPRC_MF", "anchor": "middle", "frame": "group", "offset": -17, "font": "Liberation Serif", "fontSize": 16, "fontWeight": "bold", "color": "#111"},
  "data": {"name": "leg"}, "transform": [{"filter": "datum.p == 'E'"}],
  "encoding": {"y": {"field": "k", "type": "quantitative", "scale": {"domain": [-2.02, 13.51], "reverse": true, "nice": false, "zero": false}, "axis": null}, "x": {"datum": 0, "type": "quantitative", "scale": {"domain": [0, 1], "nice": false, "zero": false}, "axis": null}},
  "layer": [
   {"transform": [{"filter": "datum.s != null"}], "mark": {"type": "tick", "orient": "horizontal", "thickness": 2, "size": 6, "xOffset": 3, "yOffset": -3}, "encoding": {"color": {"field": "s", "type": "nominal", "legend": null}}},
   {"mark": {"type": "text", "align": "left", "baseline": "middle", "dx": 7, "font": "Liberation Serif", "fontSize": 14}, "encoding": {"text": {"field": "t"}, "color": {"condition": {"test": "datum.f", "value": "#8a7e72"}, "value": "#1a1a1a"}}}
  ]}
]},
{"spacing": 4, "hconcat": [
 {"title": {"text": "F", "anchor": "start", "frame": "bounds", "font": "Liberation Sans", "fontSize": 24, "fontWeight": "bold", "color": "#000", "offset": 3}, "spacing": 0, "vconcat": [
  {"width": 213, "height": 109, "data": {"name": "es"}, "transform": [{"filter": "datum.p == 'F'"}], "layer": [
   {"mark": {"type": "line", "strokeWidth": 1.7}, "encoding": {
    "x": {"field": "x", "type": "quantitative", "scale": {"domain": [-620, 12620], "nice": false, "zero": false}, "axis": {"title": null, "labels": false, "ticks": false, "grid": true, "gridColor": "#e6e6e6", "values": [0,2000,4000,6000,8000,10000,12000], "tickCount": 30}},
    "y": {"field": "y", "type": "quantitative", "scale": {"domain": [-0.72, 0.88], "nice": false, "zero": false}, "axis": {"title": "Enrichment score", "values": [-0.6, -0.4, -0.2, 0, 0.2, 0.4, 0.6], "format": ".1f", "labelOverlap": false, "tickCount": 30, "grid": true, "gridColor": "#e6e6e6"}},
    "color": {"field": "s", "type": "nominal", "scale": {"domain": [1,2,3,4,5,6,7,8,9,10], "range": ["#E64B35","#4DBBD5","#00A087","#3C5488","#F39B7F","#8491B4","#91D1C2","#DC0000","#7E6148","#B09C85"]}, "legend": null}}},
   {"transform": [{"aggregate": [{"op": "count", "as": "n"}]}], "mark": {"type": "rule", "color": "#d4d4d4"}, "encoding": {"y": {"datum": 0, "type": "quantitative"}}}
  ]},
  {"width": 213, "height": 57, "data": {"name": "hits"}, "transform": [{"filter": "datum.p == 'F'"}],
   "encoding": {
    "x": {"field": "x", "type": "quantitative", "scale": {"domain": [-620, 12620], "nice": false, "zero": false}, "axis": null},
    "y": {"field": "s", "type": "ordinal", "scale": {"type": "band", "domain": [1,2,3,4,5,6,7,8,9,10], "paddingInner": 0, "paddingOuter": 0}, "axis": {"title": null, "labels": false, "ticks": false, "domain": false, "grid": true, "gridColor": "#222", "bandPosition": 0}},
    "color": {"field": "s", "type": "nominal", "legend": null}},
   "layer": [
    {"transform": [{"filter": "datum.x2 == null"}], "mark": {"type": "tick", "orient": "vertical", "thickness": 2.2, "size": 4.5}},
    {"transform": [{"filter": "datum.x2 != null"}], "mark": {"type": "bar", "height": {"band": 0.8}}, "encoding": {"x2": {"field": "x2"}}}
  ]},
  {"width": 213, "height": 110, "layer": [
   {"data": {"name": "met"}, "transform": [{"filter": "datum.p == 'F'"}], "mark": {"type": "area", "color": "#c9c9c9", "interpolate": "monotone"}, "encoding": {
    "x": {"field": "x", "type": "quantitative", "scale": {"domain": [-620, 12620], "nice": false, "zero": false}, "axis": {"title": "Rank in Ordered DataSet", "values": [0,2000,4000,6000,8000,10000,12000], "format": ",.0f", "labelOverlap": false, "tickCount": 30, "titleFontSize": 16, "titlePadding": 14, "grid": true, "gridColor": "#e6e6e6"}},
    "y": {"field": "y", "type": "quantitative", "scale": {"domain": [-0.58, 0.54], "nice": false, "zero": false}, "axis": {"title": "Ranked list metric", "values": [-0.4,-0.2,0,0.2,0.4], "format": ".1f", "labelOverlap": false, "tickCount": 30, "grid": true, "gridColor": "#e6e6e6"}},
    "y2": {"datum": 0}}},
   {"data": {"name": "met"}, "transform": [{"filter": "datum.p == 'F'"}, {"aggregate": [{"op": "count", "as": "n"}]}], "mark": {"type": "rule", "color": "#b5b5b5", "strokeDash": [2, 2]}, "encoding": {"y": {"datum": 0, "type": "quantitative"}}},
   {"data": {"name": "lh"}, "transform": [{"filter": "datum.p == 'F'"}], "mark": {"type": "text", "font": "Liberation Serif", "fontSize": 16, "color": "#111"}, "encoding": {"x": {"field": "x", "type": "quantitative"}, "y": {"field": "y", "type": "quantitative"}, "text": {"field": "t"}}}
  ]}
 ]},
 {"width": 248, "height": 276, "view": {"stroke": null},
  "title": {"text": "NOP2_BP", "anchor": "middle", "frame": "group", "offset": -6, "font": "Liberation Serif", "fontSize": 16, "fontWeight": "bold", "color": "#111"},
  "data": {"name": "leg"}, "transform": [{"filter": "datum.p == 'F'"}],
  "encoding": {"y": {"field": "k", "type": "quantitative", "scale": {"domain": [-1.33, 14.63], "reverse": true, "nice": false, "zero": false}, "axis": null}, "x": {"datum": 0, "type": "quantitative", "scale": {"domain": [0, 1], "nice": false, "zero": false}, "axis": null}},
  "layer": [
   {"transform": [{"filter": "datum.s != null"}], "mark": {"type": "tick", "orient": "horizontal", "thickness": 2, "size": 6, "xOffset": 3, "yOffset": -3}, "encoding": {"color": {"field": "s", "type": "nominal", "legend": null}}},
   {"mark": {"type": "text", "align": "left", "baseline": "middle", "dx": 7, "font": "Liberation Serif", "fontSize": 14}, "encoding": {"text": {"field": "t"}, "color": {"condition": {"test": "datum.f", "value": "#8a7e72"}, "value": "#1a1a1a"}}}
  ]}
]}
]},
{"spacing": 20, "hconcat": [
{"spacing": 4, "hconcat": [
 {"title": {"text": "G", "anchor": "start", "frame": "bounds", "font": "Liberation Sans", "fontSize": 24, "fontWeight": "bold", "color": "#000", "offset": 3}, "spacing": 0, "vconcat": [
  {"width": 250, "height": 110, "data": {"name": "es"}, "transform": [{"filter": "datum.p == 'G'"}], "layer": [
   {"mark": {"type": "line", "strokeWidth": 1.7}, "encoding": {
    "x": {"field": "x", "type": "quantitative", "scale": {"domain": [-475, 12740], "nice": false, "zero": false}, "axis": null},
    "y": {"field": "y", "type": "quantitative", "scale": {"domain": [-0.34, 1.0], "nice": false, "zero": false}, "axis": {"title": "Enrichment score", "values": [-0.2, 0, 0.2, 0.4, 0.6, 0.8], "format": ".1f", "labelOverlap": false, "tickCount": 30, "labelExpr": "replace(datum.label, '-', '−')"}},
    "color": {"field": "s", "type": "nominal", "scale": {"domain": [1,2,3,4,5,6,7,8,9,10], "range": ["#E64B35","#4DBBD5","#00A087","#3C5488","#F39B7F","#8491B4","#91D1C2","#DC0000","#7E6148","#B09C85"]}, "legend": null}}},
   {"transform": [{"aggregate": [{"op": "count", "as": "n"}]}], "mark": {"type": "rule", "color": "#d4d4d4"}, "encoding": {"y": {"datum": 0, "type": "quantitative"}}}
  ]},
  {"width": 250, "height": 56, "data": {"name": "hits"}, "transform": [{"filter": "datum.p == 'G'"}],
   "encoding": {
    "x": {"field": "x", "type": "quantitative", "scale": {"domain": [-475, 12740], "nice": false, "zero": false}, "axis": null},
    "y": {"field": "s", "type": "ordinal", "scale": {"type": "band", "domain": [1,2,3,4,5,6,7,8,9,10], "paddingInner": 0, "paddingOuter": 0}, "axis": {"title": null, "labels": false, "ticks": false, "domain": false, "grid": true, "gridColor": "#222", "bandPosition": 0}},
    "color": {"field": "s", "type": "nominal", "legend": null}},
   "layer": [
    {"transform": [{"filter": "datum.x2 == null"}], "mark": {"type": "tick", "orient": "vertical", "thickness": 2.2, "size": 4.5}},
    {"transform": [{"filter": "datum.x2 != null"}], "mark": {"type": "bar", "height": {"band": 0.8}}, "encoding": {"x2": {"field": "x2"}}}
  ]},
  {"width": 250, "height": 109, "layer": [
   {"data": {"name": "met"}, "transform": [{"filter": "datum.p == 'G'"}], "mark": {"type": "area", "color": "#c9c9c9", "interpolate": "monotone"}, "encoding": {
    "x": {"field": "x", "type": "quantitative", "scale": {"domain": [-475, 12740], "nice": false, "zero": false}, "axis": {"title": "Rank in Ordered DataSet", "values": [0,2000,4000,6000,8000,10000,12000], "format": ",.0f", "labelOverlap": false, "tickCount": 30, "titleFontSize": 16, "titlePadding": 8}},
    "y": {"field": "y", "type": "quantitative", "scale": {"domain": [-0.59, 0.56], "nice": false, "zero": false}, "axis": {"title": "Ranked list metric", "values": [-0.4,-0.2,0,0.2,0.4], "format": ".1f", "labelOverlap": false, "tickCount": 30}},
    "y2": {"datum": 0}}},
   {"data": {"name": "met"}, "transform": [{"filter": "datum.p == 'G'"}, {"aggregate": [{"op": "count", "as": "n"}]}], "mark": {"type": "rule", "color": "#b5b5b5", "strokeDash": [2, 2]}, "encoding": {"y": {"datum": 0, "type": "quantitative"}}},
   {"data": {"name": "lh"}, "transform": [{"filter": "datum.p == 'G'"}], "mark": {"type": "text", "font": "Liberation Serif", "fontSize": 16, "color": "#111"}, "encoding": {"x": {"field": "x", "type": "quantitative"}, "y": {"field": "y", "type": "quantitative"}, "text": {"field": "t"}}}
  ]}
 ]},
 {"width": 140, "height": 275, "view": {"stroke": null},
  "title": {"text": "NOP2_CC", "anchor": "middle", "frame": "group", "offset": -10, "font": "Liberation Serif", "fontSize": 16, "fontWeight": "bold", "color": "#111"},
  "data": {"name": "leg"}, "transform": [{"filter": "datum.p == 'G'"}],
  "encoding": {"y": {"field": "k", "type": "quantitative", "scale": {"domain": [-3.83, 11.88], "reverse": true, "nice": false, "zero": false}, "axis": null}, "x": {"datum": 0, "type": "quantitative", "scale": {"domain": [0, 1], "nice": false, "zero": false}, "axis": null}},
  "layer": [
   {"transform": [{"filter": "datum.s != null"}], "mark": {"type": "tick", "orient": "horizontal", "thickness": 2, "size": 6, "xOffset": 3, "yOffset": -3}, "encoding": {"color": {"field": "s", "type": "nominal", "legend": null}}},
   {"mark": {"type": "text", "align": "left", "baseline": "middle", "dx": 7, "font": "Liberation Serif", "fontSize": 14}, "encoding": {"text": {"field": "t"}, "color": {"condition": {"test": "datum.f", "value": "#8a7e72"}, "value": "#1a1a1a"}}}
  ]}
]},
{"spacing": 4, "hconcat": [
 {"title": {"text": "H", "anchor": "start", "frame": "bounds", "font": "Liberation Sans", "fontSize": 24, "fontWeight": "bold", "color": "#000", "offset": 3}, "spacing": 0, "vconcat": [
  {"width": 223, "height": 107, "data": {"name": "es"}, "transform": [{"filter": "datum.p == 'H'"}], "layer": [
   {"mark": {"type": "line", "strokeWidth": 1.7}, "encoding": {
    "x": {"field": "x", "type": "quantitative", "scale": {"domain": [-590, 12590], "nice": false, "zero": false}, "axis": null},
    "y": {"field": "y", "type": "quantitative", "scale": {"domain": [-0.64, 0.87], "nice": false, "zero": false}, "axis": {"title": "Enrichment score", "values": [-0.6, -0.4, -0.2, 0, 0.2, 0.4, 0.6], "format": ".1f", "labelOverlap": false, "tickCount": 30}},
    "color": {"field": "s", "type": "nominal", "scale": {"domain": [1,2,3,4,5,6,7,8,9,10], "range": ["#E64B35","#4DBBD5","#00A087","#3C5488","#F39B7F","#8491B4","#91D1C2","#DC0000","#7E6148","#B09C85"]}, "legend": null}}},
   {"transform": [{"aggregate": [{"op": "count", "as": "n"}]}], "mark": {"type": "rule", "color": "#d4d4d4"}, "encoding": {"y": {"datum": 0, "type": "quantitative"}}}
  ]},
  {"width": 223, "height": 58, "data": {"name": "hits"}, "transform": [{"filter": "datum.p == 'H'"}],
   "encoding": {
    "x": {"field": "x", "type": "quantitative", "scale": {"domain": [-590, 12590], "nice": false, "zero": false}, "axis": null},
    "y": {"field": "s", "type": "ordinal", "scale": {"type": "band", "domain": [1,2,3,4,5,6,7,8,9,10], "paddingInner": 0, "paddingOuter": 0}, "axis": {"title": null, "labels": false, "ticks": false, "domain": false, "grid": true, "gridColor": "#222", "bandPosition": 0}},
    "color": {"field": "s", "type": "nominal", "legend": null}},
   "layer": [
    {"transform": [{"filter": "datum.x2 == null"}], "mark": {"type": "tick", "orient": "vertical", "thickness": 2.2, "size": 4.5}},
    {"transform": [{"filter": "datum.x2 != null"}], "mark": {"type": "bar", "height": {"band": 0.8}}, "encoding": {"x2": {"field": "x2"}}}
  ]},
  {"width": 223, "height": 108, "layer": [
   {"data": {"name": "met"}, "transform": [{"filter": "datum.p == 'H'"}], "mark": {"type": "area", "color": "#c9c9c9", "interpolate": "monotone"}, "encoding": {
    "x": {"field": "x", "type": "quantitative", "scale": {"domain": [-590, 12590], "nice": false, "zero": false}, "axis": {"title": "Rank in Ordered DataSet", "values": [0,2000,4000,6000,8000,10000,12000], "format": ",.0f", "labelOverlap": false, "tickCount": 30, "titleFontSize": 16, "titlePadding": 8}},
    "y": {"field": "y", "type": "quantitative", "scale": {"domain": [-0.58, 0.54], "nice": false, "zero": false}, "axis": {"title": "Ranked list metric", "values": [-0.4,-0.2,0,0.2,0.4], "format": ".1f", "labelOverlap": false, "tickCount": 30}},
    "y2": {"datum": 0}}},
   {"data": {"name": "met"}, "transform": [{"filter": "datum.p == 'H'"}, {"aggregate": [{"op": "count", "as": "n"}]}], "mark": {"type": "rule", "color": "#b5b5b5", "strokeDash": [2, 2]}, "encoding": {"y": {"datum": 0, "type": "quantitative"}}},
   {"data": {"name": "lh"}, "transform": [{"filter": "datum.p == 'H'"}], "mark": {"type": "text", "font": "Liberation Serif", "fontSize": 16, "color": "#111"}, "encoding": {"x": {"field": "x", "type": "quantitative"}, "y": {"field": "y", "type": "quantitative"}, "text": {"field": "t"}}}
  ]}
 ]},
 {"width": 218, "height": 273, "view": {"stroke": null},
  "title": {"text": "LRPPRC_BP", "anchor": "middle", "frame": "group", "offset": -17, "font": "Liberation Serif", "fontSize": 16, "fontWeight": "bold", "color": "#111"},
  "data": {"name": "leg"}, "transform": [{"filter": "datum.p == 'H'"}],
  "encoding": {"y": {"field": "k", "type": "quantitative", "scale": {"domain": [-2.35, 13.32], "reverse": true, "nice": false, "zero": false}, "axis": null}, "x": {"datum": 0, "type": "quantitative", "scale": {"domain": [0, 1], "nice": false, "zero": false}, "axis": null}},
  "layer": [
   {"transform": [{"filter": "datum.s != null"}], "mark": {"type": "tick", "orient": "horizontal", "thickness": 2, "size": 6, "xOffset": 3, "yOffset": -3}, "encoding": {"color": {"field": "s", "type": "nominal", "legend": null}}},
   {"mark": {"type": "text", "align": "left", "baseline": "middle", "dx": 7, "font": "Liberation Serif", "fontSize": 14}, "encoding": {"text": {"field": "t"}, "color": {"condition": {"test": "datum.f", "value": "#8a7e72"}, "value": "#1a1a1a"}}}
  ]}
]}
]}
]}
]
}
